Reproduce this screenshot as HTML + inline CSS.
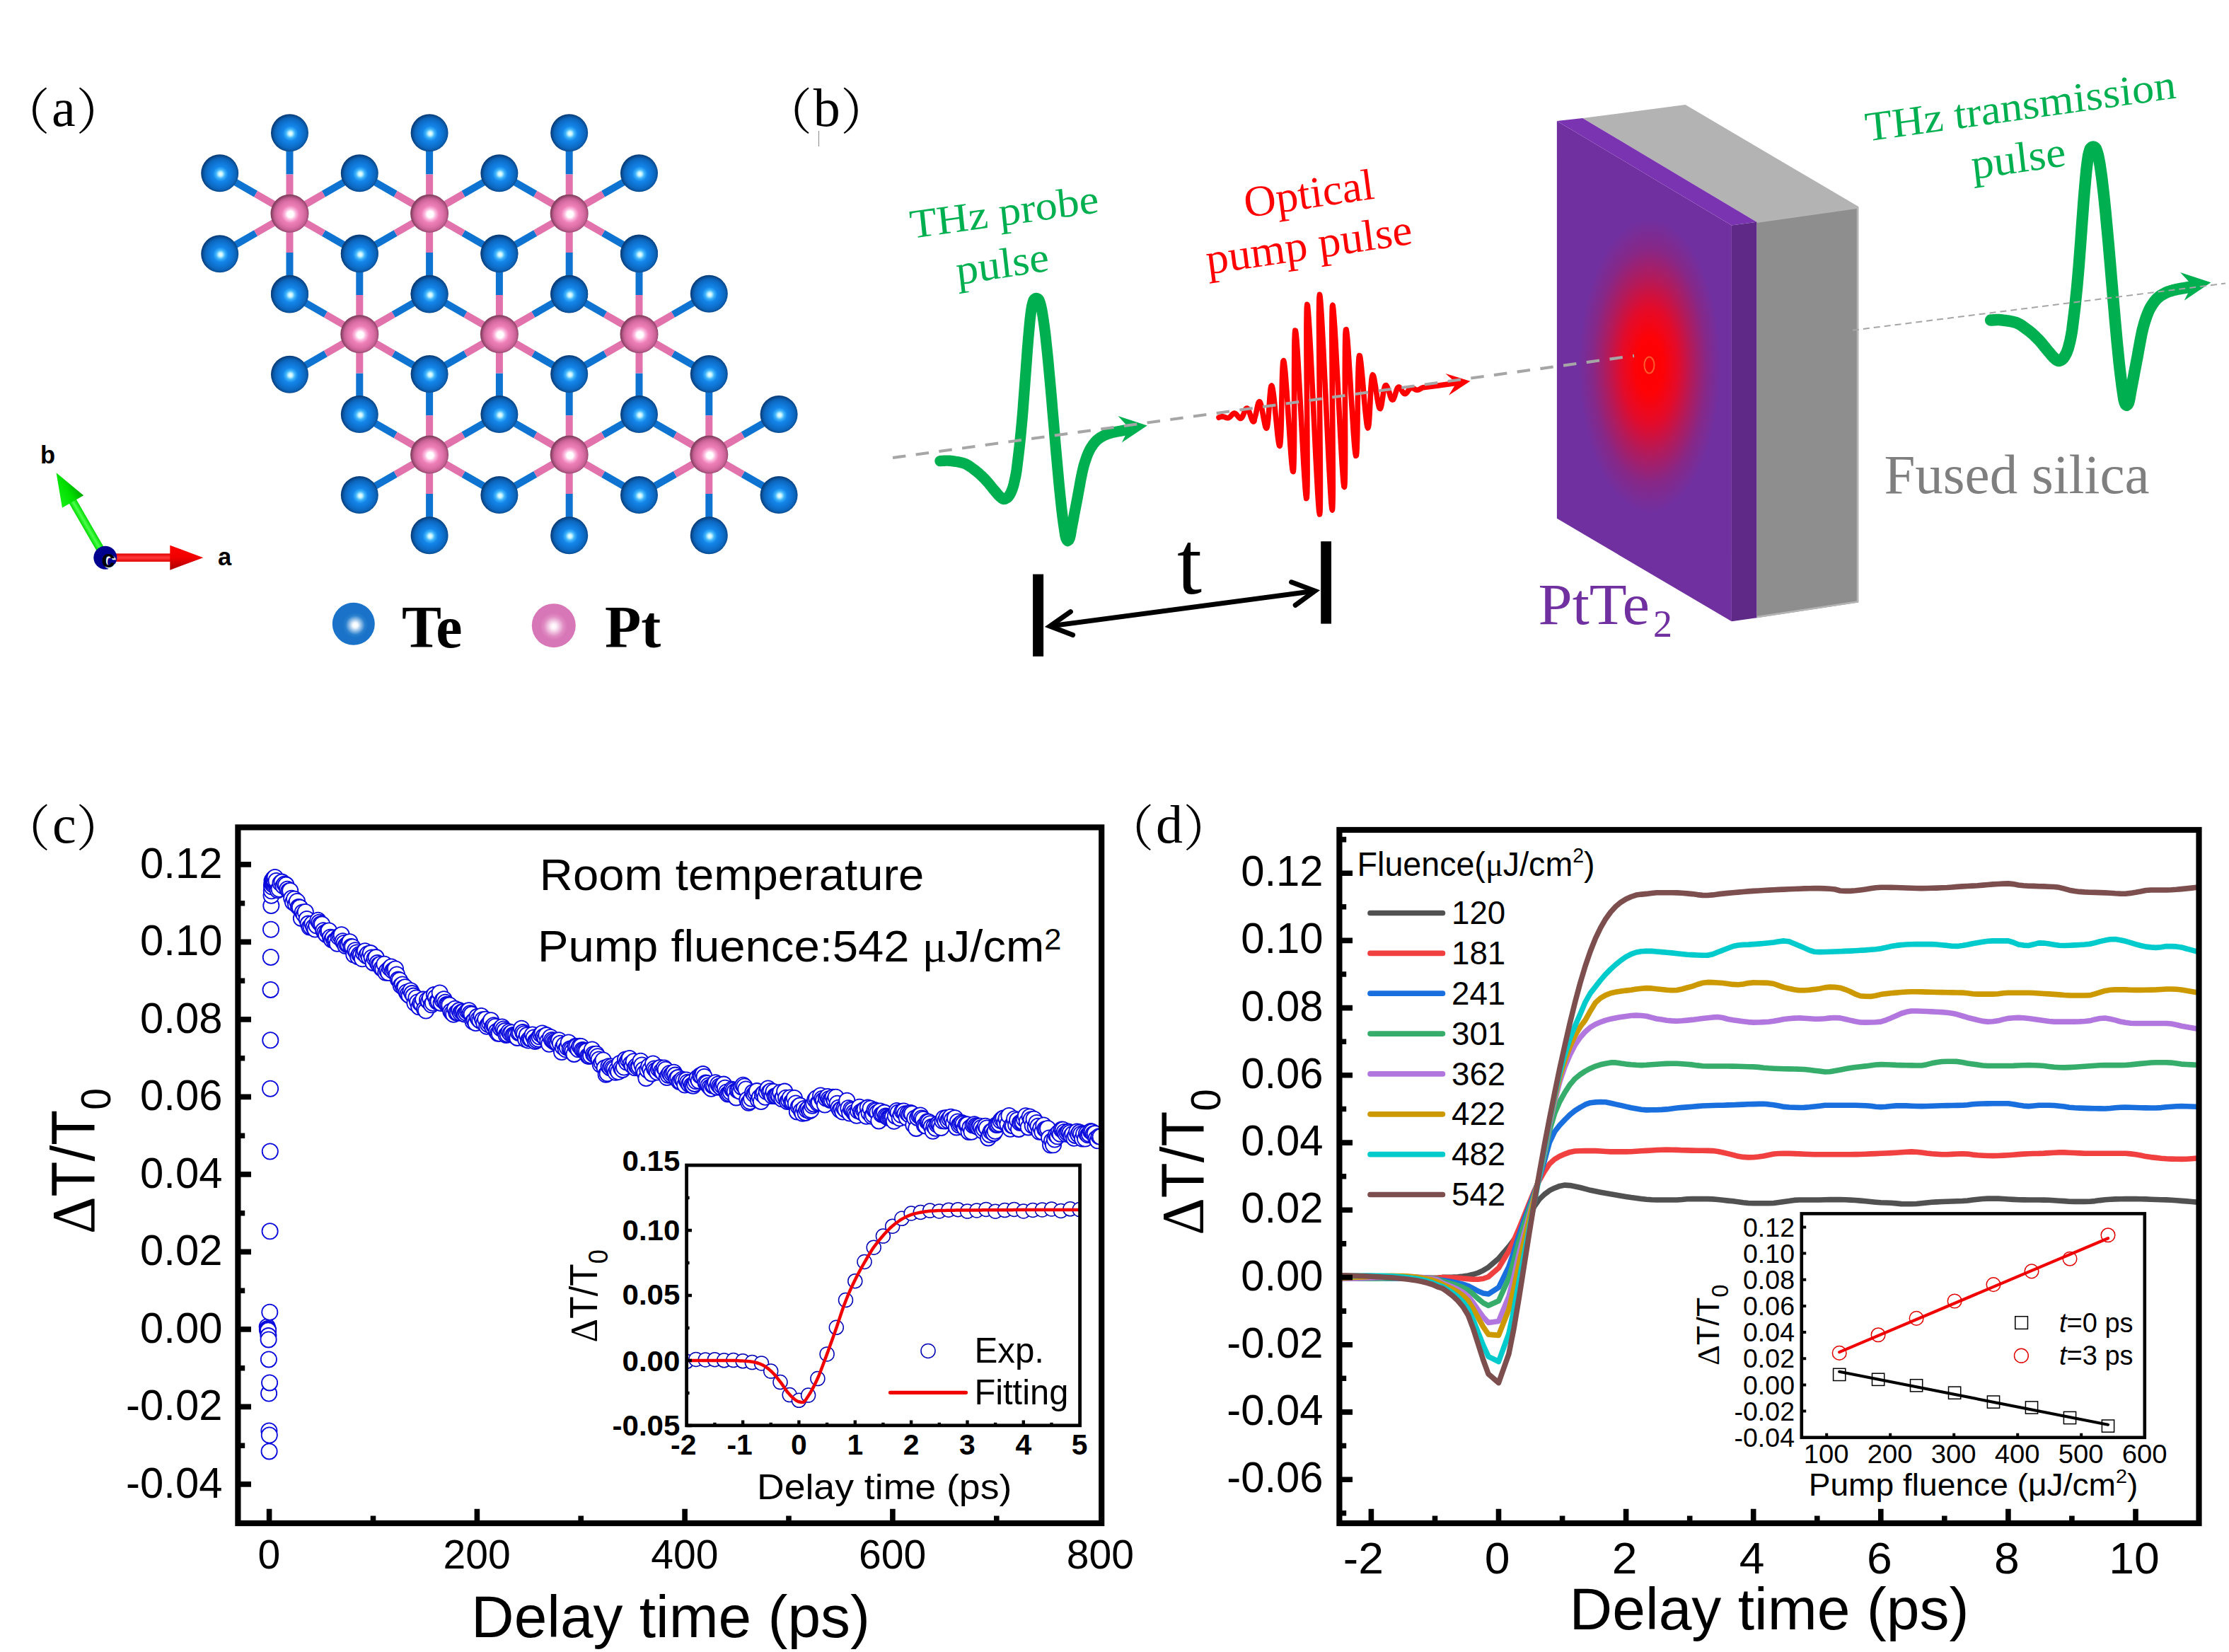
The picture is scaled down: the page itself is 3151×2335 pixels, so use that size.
<!DOCTYPE html>
<html lang="en"><head><meta charset="utf-8"><title>PtTe2 optical-pump THz-probe figure</title>
<style>
html,body{margin:0;padding:0;background:#fff;}
body{width:3151px;height:2335px;overflow:hidden;}
svg{display:block;}
.sans{font-family:"Liberation Sans", sans-serif;}
.serif{font-family:"Liberation Serif", serif;}
.cjk{font-family:"Liberation Serif", "Noto Serif CJK SC", serif;}
</style></head><body>
<svg xmlns="http://www.w3.org/2000/svg" width="3151" height="2335" viewBox="0 0 3151 2335">
<defs>
<radialGradient id="gTe" cx="0.52" cy="0.52" r="0.5" fx="0.52" fy="0.52"><stop offset="0" stop-color="#f4ffff"/><stop offset="0.1" stop-color="#c8f6ff"/><stop offset="0.24" stop-color="#3fb4fb"/><stop offset="0.4" stop-color="#1486ea"/><stop offset="0.62" stop-color="#0f76d6"/><stop offset="0.82" stop-color="#0c66bd"/><stop offset="0.94" stop-color="#0a4f97"/><stop offset="1" stop-color="#093f7c"/></radialGradient>
<radialGradient id="gPt" cx="0.52" cy="0.52" r="0.5" fx="0.52" fy="0.52"><stop offset="0" stop-color="#ffffff"/><stop offset="0.16" stop-color="#ffffff"/><stop offset="0.3" stop-color="#fbb6dc"/><stop offset="0.46" stop-color="#ee80b8"/><stop offset="0.66" stop-color="#e072aa"/><stop offset="0.84" stop-color="#c76194"/><stop offset="0.95" stop-color="#9c4a74"/><stop offset="1" stop-color="#84405f"/></radialGradient>
<radialGradient id="gTeL" cx="0.54" cy="0.53" r="0.5"><stop offset="0" stop-color="#ffffff"/><stop offset="0.12" stop-color="#f2f8fd"/><stop offset="0.45" stop-color="#2a80cf"/><stop offset="0.6" stop-color="#1a73c8"/><stop offset="1" stop-color="#1a73c8"/></radialGradient>
<radialGradient id="gPtL" cx="0.5" cy="0.52" r="0.5"><stop offset="0" stop-color="#ffffff"/><stop offset="0.12" stop-color="#fdf1f8"/><stop offset="0.45" stop-color="#e08cc3"/><stop offset="0.62" stop-color="#d877b7"/><stop offset="1" stop-color="#d877b7"/></radialGradient>
<circle id="te" r="26.5" fill="url(#gTe)"/>
<circle id="pt" r="27" fill="url(#gPt)"/>
<linearGradient id="gRedS" x1="0" y1="0" x2="0" y2="1"><stop offset="0" stop-color="#e00000"/><stop offset="0.5" stop-color="#ff3a3a"/><stop offset="1" stop-color="#e00000"/></linearGradient>
<linearGradient id="gRedH" x1="0" y1="0" x2="0" y2="1"><stop offset="0" stop-color="#ff0000"/><stop offset="0.5" stop-color="#f00000"/><stop offset="1" stop-color="#a80000"/></linearGradient>
<linearGradient id="gGrnS" x1="0" y1="0" x2="0" y2="1"><stop offset="0" stop-color="#00d800"/><stop offset="0.5" stop-color="#4cff4c"/><stop offset="1" stop-color="#00d800"/></linearGradient>
<linearGradient id="gGrnH" x1="0" y1="0" x2="0" y2="1"><stop offset="0" stop-color="#18f018"/><stop offset="0.55" stop-color="#00e000"/><stop offset="1" stop-color="#00a800"/></linearGradient>
<radialGradient id="gSpot" gradientUnits="userSpaceOnUse" cx="0" cy="0" r="1" gradientTransform="translate(2332 517) scale(100 208)"><stop offset="0" stop-color="#ff0000"/><stop offset="0.2" stop-color="#fd0207"/><stop offset="0.4" stop-color="#e30b2b"/><stop offset="0.6" stop-color="#b21b5c"/><stop offset="0.8" stop-color="#872888"/><stop offset="1" stop-color="#7030a0"/></radialGradient>
<clipPath id="cFront"><path d="M2200.9 170.9L2447.9 318.6L2447.9 878.2L2200.9 732.8Z"/></clipPath>
<clipPath id="cC"><rect x="336.4" y="1169.4" width="1220.8" height="983.6"/></clipPath>
<marker id="mC" markerUnits="userSpaceOnUse" markerWidth="30" markerHeight="30" refX="15" refY="15" overflow="visible"><circle cx="15" cy="15" r="11.1" fill="#fff" stroke="#0a0adc" stroke-width="1.8"/></marker>
<marker id="mCi" markerUnits="userSpaceOnUse" markerWidth="30" markerHeight="30" refX="15" refY="15" overflow="visible"><circle cx="15" cy="15" r="10" fill="#fff" stroke="#0000b4" stroke-width="1.5"/></marker>
<clipPath id="cCi"><rect x="970.6" y="1647" width="556" height="367.8"/></clipPath>
<clipPath id="cD"><rect x="1893.4" y="1173" width="1215.1" height="980"/></clipPath>
</defs>
<rect width="3151" height="2335" fill="#fff"/>
<g id="panel-a">
<path d="M409.5 246.5L409.5 187.7M457.4 274.1L508.3 244.8M457.4 329.5L508.3 358.8M409.5 357.1L409.5 415.9M361.6 329.5L310.7 358.8M361.6 274.1L310.7 244.8M607.1 246.5L607.1 187.7M655 274.1L705.9 244.8M655 329.5L705.9 358.8M607.1 357.1L607.1 415.9M559.2 329.5L508.3 358.8M559.2 274.1L508.3 244.8M804.7 246.5L804.7 187.7M852.6 274.1L903.5 244.8M852.6 329.5L903.5 358.8M804.7 357.1L804.7 415.9M756.8 329.5L705.9 358.8M756.8 274.1L705.9 244.8M508.3 416.9L508.3 358.1M556.2 444.5L607.1 415.2M556.2 499.9L607.1 529.2M508.3 527.5L508.3 586.3M460.4 499.9L409.5 529.2M460.4 444.5L409.5 415.2M705.9 416.9L705.9 358.1M753.8 444.5L804.7 415.2M753.8 499.9L804.7 529.2M705.9 527.5L705.9 586.3M658 499.9L607.1 529.2M658 444.5L607.1 415.2M903.5 416.9L903.5 358.1M951.4 444.5L1002.3 415.2M951.4 499.9L1002.3 529.2M903.5 527.5L903.5 586.3M855.6 499.9L804.7 529.2M855.6 444.5L804.7 415.2M607.1 587.3L607.1 528.5M655 614.9L705.9 585.6M655 670.3L705.9 699.6M607.1 697.9L607.1 756.7M559.2 670.3L508.3 699.6M559.2 614.9L508.3 585.6M804.7 587.3L804.7 528.5M852.6 614.9L903.5 585.6M852.6 670.3L903.5 699.6M804.7 697.9L804.7 756.7M756.8 670.3L705.9 699.6M756.8 614.9L705.9 585.6M1002.3 587.3L1002.3 528.5M1050.2 614.9L1101.1 585.6M1050.2 670.3L1101.1 699.6M1002.3 697.9L1002.3 756.7M954.4 670.3L903.5 699.6M954.4 614.9L903.5 585.6" stroke="#0f74d1" stroke-width="10" fill="none"/>
<path d="M409.5 301.8L409.5 246.5M409.5 301.8L457.4 274.1M409.5 301.8L457.4 329.5M409.5 301.8L409.5 357.1M409.5 301.8L361.6 329.5M409.5 301.8L361.6 274.1M607.1 301.8L607.1 246.5M607.1 301.8L655 274.1M607.1 301.8L655 329.5M607.1 301.8L607.1 357.1M607.1 301.8L559.2 329.5M607.1 301.8L559.2 274.1M804.7 301.8L804.7 246.5M804.7 301.8L852.6 274.1M804.7 301.8L852.6 329.5M804.7 301.8L804.7 357.1M804.7 301.8L756.8 329.5M804.7 301.8L756.8 274.1M508.3 472.2L508.3 416.9M508.3 472.2L556.2 444.5M508.3 472.2L556.2 499.9M508.3 472.2L508.3 527.5M508.3 472.2L460.4 499.9M508.3 472.2L460.4 444.5M705.9 472.2L705.9 416.9M705.9 472.2L753.8 444.5M705.9 472.2L753.8 499.9M705.9 472.2L705.9 527.5M705.9 472.2L658 499.9M705.9 472.2L658 444.5M903.5 472.2L903.5 416.9M903.5 472.2L951.4 444.5M903.5 472.2L951.4 499.9M903.5 472.2L903.5 527.5M903.5 472.2L855.6 499.9M903.5 472.2L855.6 444.5M607.1 642.6L607.1 587.3M607.1 642.6L655 614.9M607.1 642.6L655 670.3M607.1 642.6L607.1 697.9M607.1 642.6L559.2 670.3M607.1 642.6L559.2 614.9M804.7 642.6L804.7 587.3M804.7 642.6L852.6 614.9M804.7 642.6L852.6 670.3M804.7 642.6L804.7 697.9M804.7 642.6L756.8 670.3M804.7 642.6L756.8 614.9M1002.3 642.6L1002.3 587.3M1002.3 642.6L1050.2 614.9M1002.3 642.6L1050.2 670.3M1002.3 642.6L1002.3 697.9M1002.3 642.6L954.4 670.3M1002.3 642.6L954.4 614.9" stroke="#e272ab" stroke-width="10" fill="none"/>
<use href="#te" x="409.5" y="187.7"/>
<use href="#te" x="607.1" y="187.7"/>
<use href="#te" x="804.7" y="187.7"/>
<use href="#te" x="310.7" y="244.8"/>
<use href="#te" x="508.3" y="244.8"/>
<use href="#te" x="705.9" y="244.8"/>
<use href="#te" x="903.5" y="244.8"/>
<use href="#te" x="508.3" y="358.1"/>
<use href="#te" x="705.9" y="358.1"/>
<use href="#te" x="903.5" y="358.1"/>
<use href="#te" x="310.7" y="358.8"/>
<use href="#te" x="508.3" y="358.8"/>
<use href="#te" x="705.9" y="358.8"/>
<use href="#te" x="903.5" y="358.8"/>
<use href="#te" x="409.5" y="415.2"/>
<use href="#te" x="607.1" y="415.2"/>
<use href="#te" x="804.7" y="415.2"/>
<use href="#te" x="1002.3" y="415.2"/>
<use href="#te" x="409.5" y="415.9"/>
<use href="#te" x="607.1" y="415.9"/>
<use href="#te" x="804.7" y="415.9"/>
<use href="#te" x="607.1" y="528.5"/>
<use href="#te" x="804.7" y="528.5"/>
<use href="#te" x="1002.3" y="528.5"/>
<use href="#te" x="409.5" y="529.2"/>
<use href="#te" x="508.3" y="585.6"/>
<use href="#te" x="705.9" y="585.6"/>
<use href="#te" x="903.5" y="585.6"/>
<use href="#te" x="1101.1" y="585.6"/>
<use href="#te" x="508.3" y="699.6"/>
<use href="#te" x="705.9" y="699.6"/>
<use href="#te" x="903.5" y="699.6"/>
<use href="#te" x="1101.1" y="699.6"/>
<use href="#te" x="607.1" y="756.7"/>
<use href="#te" x="804.7" y="756.7"/>
<use href="#te" x="1002.3" y="756.7"/>
<use href="#pt" x="409.5" y="301.8"/>
<use href="#pt" x="607.1" y="301.8"/>
<use href="#pt" x="804.7" y="301.8"/>
<use href="#pt" x="508.3" y="472.2"/>
<use href="#pt" x="705.9" y="472.2"/>
<use href="#pt" x="903.5" y="472.2"/>
<use href="#pt" x="607.1" y="642.6"/>
<use href="#pt" x="804.7" y="642.6"/>
<use href="#pt" x="1002.3" y="642.6"/>
<g transform="translate(148.8 788.2) rotate(-120)">
<rect x="0" y="-5.8" width="92.5" height="11.5" fill="url(#gGrnS)"/>
<path d="M91.5 -17.5L138.5 0L91.5 17.5Z" fill="url(#gGrnH)"/>
</g>
<g transform="translate(148.8 788.2) rotate(0)">
<rect x="0" y="-5.8" width="92.5" height="11.5" fill="url(#gRedS)"/>
<path d="M91.5 -17.5L138.5 0L91.5 17.5Z" fill="url(#gRedH)"/>
</g>
<circle cx="148.8" cy="788.2" r="16.5" fill="#00008e"/>
<text class="sans" x="155.2" y="803.5" font-size="35" font-weight="700" text-anchor="middle" fill="#fff">c</text>
<text class="sans" x="153.3" y="801.6" font-size="35" font-weight="700" text-anchor="middle" fill="#000">c</text>
<text class="sans" x="67.5" y="655" font-size="34.5" font-weight="700" text-anchor="middle" fill="#000">b</text>
<text class="sans" x="317.5" y="799" font-size="34.5" font-weight="700" text-anchor="middle" fill="#000">a</text>
<circle cx="499.8" cy="881.8" r="30" fill="url(#gTeL)"/>
<circle cx="782.8" cy="884.2" r="31" fill="url(#gPtL)"/>
<text class="serif" x="568" y="914.5" font-size="84" font-weight="700" fill="#000">Te</text>
<text class="serif" x="855" y="915" font-size="84" font-weight="700" fill="#000">Pt</text>
<text class="cjk" fill="#000" font-size="76"><tspan font-family="'Noto Serif CJK SC', serif" font-size="70" x="0.6" y="183">（</tspan><tspan x="72.9" y="178.4">a</tspan><tspan font-family="'Noto Serif CJK SC', serif" font-size="70" x="107.5" y="183">）</tspan></text>
</g>
<g id="panel-b">
<path d="M2237.2 167L2382.5 148.1L2627.2 292L2483.3 313.8Z" fill="#b3b3b3"/>
<path d="M2483.3 313.8L2627.2 292L2627.2 851.5L2483.3 873.3Z" fill="#8e8e8e"/>
<path d="M2483.3 313.8L2626 293.4L2626 850.5L2483.3 872.1" fill="none" stroke="#b4b4b4" stroke-width="2.6" stroke-linejoin="round"/>
<path d="M2200.9 170.9L2447.9 318.6L2447.9 878.2L2200.9 732.8Z" fill="#7030a0"/>
<ellipse cx="2332" cy="517" rx="100" ry="208" fill="url(#gSpot)" clip-path="url(#cFront)"/>
<path d="M2200.9 170.9L2237.2 167L2483.3 313.8L2447.9 318.6Z" fill="#7b34b1"/>
<path d="M2447.9 318.6L2483.3 313.8L2483.3 873.3L2447.9 878.2Z" fill="#5f2988"/>
<ellipse cx="2331.5" cy="516" rx="7" ry="11.5" fill="none" stroke="#ff5a2e" stroke-width="2"/>
<path d="M1329 651.6L1330.3 651.5L1331.5 651.4L1332.8 651.4L1334.1 651.3L1335.4 651.2L1336.6 651.1L1337.9 651.1L1339.2 651.1L1340.4 651.1L1341.7 651.2L1343 651.3L1344.3 651.4L1345.5 651.6L1346.8 651.8L1348.1 651.9L1349.3 652.1L1350.6 652.3L1351.9 652.5L1353.2 652.7L1354.4 652.9L1355.7 653.1L1357 653.4L1358.2 653.7L1359.5 654L1360.8 654.3L1362.1 654.7L1363.3 655.1L1364.6 655.6L1365.9 656.2L1367.1 656.9L1368.4 657.6L1369.7 658.4L1371 659.3L1372.2 660.1L1373.5 661L1374.8 662L1376 662.9L1377.3 663.9L1378.6 664.8L1379.9 665.8L1381.1 666.8L1382.4 667.9L1383.7 669L1384.9 670.1L1386.2 671.3L1387.5 672.5L1388.8 673.7L1390 675L1391.3 676.2L1392.6 677.5L1393.8 678.9L1395.1 680.3L1396.4 681.8L1397.7 683.3L1398.9 684.8L1400.2 686.4L1401.5 688L1402.7 689.5L1404 691.1L1405.3 692.6L1406.6 694.1L1407.8 695.6L1409.1 697.1L1410.4 698.6L1411.6 700.1L1412.9 701.4L1414.2 702.5L1415.5 703.5L1416.7 704.5L1418 705.2L1419.3 705.5L1420.5 705.3L1421.8 704.8L1423.1 704L1424.4 703.2L1425.6 701.8L1426.9 700L1428.2 697.8L1429.4 695.3L1430.7 692.3L1432 688.4L1433.3 683.8L1434.5 678.5L1435.8 672.5L1437.1 664.7L1438.3 655L1439.6 644.5L1440.9 633.4L1442.2 621.4L1443.4 608.9L1444.7 595.3L1446 580.1L1447.2 563.8L1448.5 546.7L1449.8 529.3L1451.1 511.9L1452.3 495.1L1453.6 479.1L1454.9 464.5L1456.1 451.6L1457.4 440.9L1458.7 432.7L1460 427.5L1461.2 424.1L1462.5 422.6L1463.8 421.8L1465 421.5L1466.3 421.8L1467.6 422.6L1468.9 424.1L1470.1 427.5L1471.4 432L1472.7 437.9L1473.9 445L1475.2 453.3L1476.5 462.7L1477.8 473L1479 484.3L1480.3 496.3L1481.6 509.1L1482.8 522.4L1484.1 536.2L1485.4 550.5L1486.7 565.1L1487.9 579.8L1489.2 594.7L1490.5 609.7L1491.7 624.5L1493 639.2L1494.3 653.6L1495.6 667.7L1496.8 681.2L1498.1 694.3L1499.4 706.7L1500.6 718.3L1501.9 729.1L1503.2 738.9L1504.5 747.7L1505.7 756L1507 761L1508.3 763.5L1509.5 764.5L1510.8 763.5L1512.1 761L1513.4 755.9L1514.6 748.2L1515.9 741.5L1517.2 734.7L1518.4 728L1519.7 721.3L1521 714.6L1522.3 708.1L1523.5 701.3L1524.8 694.4L1526.1 687.3L1527.3 680.4L1528.6 673.7L1529.9 667.5L1531.2 661.9L1532.4 657.2L1533.7 653L1535 649.2L1536.2 645.6L1537.5 642.3L1538.8 639.3L1540.1 636.6L1541.3 634.3L1542.6 632.2L1543.9 630.3L1545.1 628.4L1546.4 626.7L1547.7 625.2L1549 623.8L1550.2 622.5L1551.5 621.3L1552.8 620.3L1554 619.4L1555.3 618.6L1556.6 617.8L1557.9 617.1L1559.1 616.4L1560.4 615.7L1561.7 615.1L1562.9 614.5L1564.2 614L1565.5 613.5L1566.8 613.1L1568 612.7L1569.3 612.3L1570.6 612L1571.8 611.6L1573.1 611.3L1574.4 611L1575.7 610.8L1576.9 610.5L1578.2 610.2L1579.5 610L1580.7 609.8L1582 609.5L1583.3 609.3L1584.6 609.1L1585.8 608.8L1587.1 608.6L1588.4 608.4L1589.6 608.1L1590.9 607.9L1592.2 607.7L1593.5 607.5L1594.7 607.3L1596 607.1L1597.3 606.8" fill="none" stroke="#00b050" stroke-width="15.4" stroke-linecap="round" stroke-linejoin="round"/>
<path d="M1621.8 601.4L1580.5 588L1596.1 605L1585.8 625.6Z" fill="#00b050"/>
<path d="M2814.1 452.6L2815.5 452.5L2816.8 452.4L2818.2 452.3L2819.5 452.3L2820.9 452.2L2822.2 452.1L2823.6 452.1L2824.9 452.1L2826.3 452.1L2827.6 452.2L2829 452.3L2830.3 452.4L2831.7 452.6L2833.1 452.8L2834.4 453L2835.8 453.1L2837.1 453.3L2838.5 453.5L2839.8 453.7L2841.2 454L2842.5 454.2L2843.9 454.5L2845.2 454.8L2846.6 455.1L2848 455.5L2849.3 455.8L2850.7 456.3L2852 456.9L2853.4 457.5L2854.7 458.2L2856.1 459L2857.4 459.8L2858.8 460.7L2860.1 461.7L2861.5 462.7L2862.8 463.7L2864.2 464.7L2865.6 465.7L2866.9 466.7L2868.3 467.7L2869.6 468.8L2871 469.9L2872.3 471.1L2873.7 472.3L2875 473.5L2876.4 474.8L2877.7 476.1L2879.1 477.5L2880.4 478.8L2881.8 480.2L2883.2 481.7L2884.5 483.2L2885.9 484.7L2887.2 486.3L2888.6 488L2889.9 489.7L2891.3 491.3L2892.6 493L2894 494.6L2895.3 496.3L2896.7 497.8L2898.1 499.4L2899.4 501.1L2900.8 502.7L2902.1 504.2L2903.5 505.6L2904.8 506.8L2906.2 507.9L2907.5 508.9L2908.9 509.7L2910.2 510L2911.6 509.8L2912.9 509.2L2914.3 508.5L2915.7 507.5L2917 506.1L2918.4 504.1L2919.7 501.8L2921.1 499.2L2922.4 496L2923.8 491.8L2925.1 486.9L2926.5 481.2L2927.8 474.8L2929.2 466.6L2930.5 456.2L2931.9 445L2933.3 433.2L2934.6 420.5L2936 407.1L2937.3 392.6L2938.7 376.5L2940 359.1L2941.4 340.9L2942.7 322.3L2944.1 303.8L2945.4 285.9L2946.8 268.9L2948.2 253.3L2949.5 239.6L2950.9 228.2L2952.2 219.5L2953.6 213.9L2954.9 210.3L2956.3 208.7L2957.6 207.8L2959 207.5L2960.3 207.8L2961.7 208.7L2963 210.3L2964.4 214L2965.8 218.8L2967.1 225L2968.5 232.6L2969.8 241.4L2971.2 251.4L2972.5 262.4L2973.9 274.4L2975.2 287.2L2976.6 300.8L2977.9 315L2979.3 329.7L2980.7 344.9L2982 360.4L2983.4 376.2L2984.7 392.1L2986.1 407.9L2987.4 423.8L2988.8 439.4L2990.1 454.7L2991.5 469.7L2992.8 484.2L2994.2 498L2995.5 511.2L2996.9 523.6L2998.3 535.1L2999.6 545.6L3001 555L3002.3 563.8L3003.7 569.1L3005 571.8L3006.4 572.8L3007.7 571.8L3009.1 569.1L3010.4 563.7L3011.8 555.5L3013.1 548.3L3014.5 541.1L3015.9 533.9L3017.2 526.8L3018.6 519.7L3019.9 512.7L3021.3 505.6L3022.6 498.1L3024 490.6L3025.3 483.3L3026.7 476.2L3028 469.5L3029.4 463.6L3030.8 458.6L3032.1 454.1L3033.5 450L3034.8 446.2L3036.2 442.7L3037.5 439.5L3038.9 436.6L3040.2 434.2L3041.6 432L3042.9 429.9L3044.3 427.9L3045.6 426.1L3047 424.5L3048.4 422.9L3049.7 421.6L3051.1 420.4L3052.4 419.3L3053.8 418.3L3055.1 417.4L3056.5 416.6L3057.8 415.8L3059.2 415.1L3060.5 414.4L3061.9 413.7L3063.2 413.1L3064.6 412.6L3066 412.1L3067.3 411.6L3068.7 411.2L3070 410.8L3071.4 410.4L3072.7 410L3074.1 409.7L3075.4 409.4L3076.8 409.1L3078.1 408.8L3079.5 408.5L3080.9 408.3L3082.2 408L3083.6 407.8L3084.9 407.5L3086.3 407.3L3087.6 407.1L3089 406.8L3090.3 406.6L3091.7 406.3L3093 406.1L3094.4 405.8L3095.7 405.6L3097.1 405.4L3098.5 405.2L3099.8 404.9" fill="none" stroke="#00b050" stroke-width="16.5" stroke-linecap="round" stroke-linejoin="round"/>
<path d="M3125.5 399.2L3082.1 385.1L3098.8 403L3087.7 424.7Z" fill="#00b050"/>
<path d="M1723 590.2L1723.6 589.9L1724.2 589.7L1724.8 589.4L1725.4 589.2L1726 589L1726.6 588.9L1727.2 588.8L1727.8 588.8L1728.4 588.8L1729 588.9L1729.6 589L1730.2 589.2L1730.8 589.4L1731.4 589.6L1732 589.9L1732.6 590.1L1733.2 590.3L1733.8 590.5L1734.5 590.7L1735.1 590.7L1735.7 590.7L1736.3 590.7L1736.9 590.5L1737.4 590.2L1738 589.8L1738.6 589.3L1739.2 588.8L1739.8 588.2L1740.4 587.6L1741 586.9L1741.6 586.3L1742.1 585.7L1742.7 585.2L1743.3 584.7L1743.9 584.4L1744.5 584.2L1745.1 584.1L1745.7 584.2L1746.3 584.5L1746.9 584.9L1747.6 585.5L1748.2 586.1L1748.8 586.9L1749.4 587.7L1750.1 588.5L1750.7 589.3L1751.3 590L1751.9 590.6L1752.5 591.1L1753.1 591.4L1753.8 591.5L1754.3 591.3L1754.9 590.9L1755.5 590.3L1756.1 589.4L1756.7 588.4L1757.2 587.1L1757.8 585.7L1758.4 584.3L1758.9 582.8L1759.5 581.3L1760 580L1760.6 578.9L1761.2 577.9L1761.8 577.3L1762.4 577L1763 577.1L1763.6 577.5L1764.2 578.3L1764.8 579.5L1765.5 580.9L1766.1 582.6L1766.8 584.5L1767.5 586.6L1768.1 588.6L1768.8 590.6L1769.4 592.4L1770.1 593.9L1770.7 595L1771.3 595.8L1772 596L1772.5 595.7L1773.1 594.8L1773.6 591.2L1774.2 589.7L1774.7 587.8L1775.3 585.6L1775.8 583.2L1776.3 580.6L1776.8 578L1777.4 575.4L1777.9 573L1778.5 570.9L1779 569.3L1779.6 568.2L1780.2 567.7L1780.8 567.9L1781.4 568.7L1782 570.3L1782.7 572.6L1783.4 575.5L1784.1 578.9L1784.8 582.7L1785.5 586.7L1786.2 590.7L1787 594.6L1787.7 598.1L1788.4 601.2L1789 603.5L1789.7 604.9L1790.3 605.4L1790.9 604.8L1791.4 603.1L1791.9 600.3L1792.4 596.5L1792.9 591.8L1793.3 586.3L1793.8 580.3L1794.2 574L1794.6 567.7L1795 561.6L1795.5 556.1L1795.9 551.5L1796.4 548L1797 545.8L1797.6 545L1798.2 545.9L1798.9 548.5L1799.6 552.6L1800.4 558.2L1801.2 565.2L1802 573.1L1802.8 581.8L1803.7 590.9L1804.6 599.9L1805.4 608.4L1806.2 616L1807 622.3L1807.8 627L1808.5 629.8L1809.1 630.4L1809.6 628.7L1810.1 624.6L1810.5 618.4L1810.9 610.1L1811.2 600.1L1811.5 588.6L1811.7 576.3L1811.9 563.6L1812.2 551L1812.4 539.3L1812.7 528.8L1813.1 520.2L1813.5 513.9L1814 510.4L1814.6 509.8L1815.3 512.3L1816 517.9L1816.9 526.4L1817.8 537.7L1818.8 551.2L1819.9 566.4L1820.9 582.7L1822 599.3L1823.1 615.6L1824.1 630.8L1825.1 644L1826 654.8L1826.9 662.4L1827.6 666.4L1828.2 666.6L1828.7 662.8L1829 655L1829.3 643.5L1829.5 628.6L1829.6 611L1829.6 591.4L1829.6 570.6L1829.6 549.5L1829.6 529.1L1829.7 510.2L1829.8 493.9L1830 480.8L1830.4 471.7L1830.8 467.1L1831.4 467.3L1832.2 472.4L1833.1 482.3L1834.1 496.7L1835.2 515L1836.4 536.4L1837.7 560.1L1839.1 585.1L1840.4 610.2L1841.7 634.3L1842.9 656.3L1844.1 675.2L1845.1 690L1846 699.9L1846.7 704.6L1847.3 703.5L1847.7 696.7L1848 684.4L1848.1 667.1L1848 645.3L1847.9 620.1L1847.7 592.5L1847.5 563.6L1847.2 534.9L1847 507.5L1846.9 482.8L1846.9 461.8L1847.1 445.6L1847.3 434.9L1847.8 430.3L1848.5 432L1849.3 440.1L1850.3 454.3L1851.5 473.9L1852.8 498.2L1854.2 526.1L1855.7 556.4L1857.2 587.7L1858.7 618.7L1860.1 647.9L1861.5 674L1862.7 695.9L1863.8 712.5L1864.7 723.1L1865.5 727L1866 724.2L1866.3 714.7L1866.4 698.9L1866.4 677.5L1866.3 651.4L1866 621.7L1865.7 589.8L1865.3 557L1865 525L1864.8 494.9L1864.6 468.3L1864.5 446.3L1864.7 429.8L1865 419.7L1865.5 416.3L1866.2 419.7L1867.1 429.9L1868.2 446.3L1869.4 468.2L1870.8 494.6L1872.2 524.3L1873.8 556L1875.3 588.1L1876.8 619.4L1878.2 648.4L1879.6 673.9L1880.8 694.6L1881.8 709.8L1882.7 718.7L1883.4 721L1883.8 716.8L1884.1 706.1L1884.3 689.5L1884.2 667.9L1884.1 642.2L1883.9 613.6L1883.6 583.4L1883.3 552.9L1883.1 523.5L1882.9 496.5L1882.8 473.1L1882.9 454.2L1883.1 440.6L1883.4 432.8L1884 431.2L1884.7 435.6L1885.6 445.8L1886.7 461.3L1887.9 481.2L1889.1 504.7L1890.5 530.6L1891.9 557.7L1893.3 584.8L1894.6 610.7L1895.9 634.2L1897.1 654.4L1898.2 670.5L1899.1 681.7L1899.9 687.7L1900.5 688.4L1901 683.7L1901.3 674L1901.5 659.9L1901.6 642.1L1901.6 621.3L1901.5 598.7L1901.4 575.2L1901.4 551.9L1901.3 529.9L1901.4 510L1901.5 493L1901.7 479.8L1902 470.6L1902.5 465.9L1903.1 465.7L1903.8 469.9L1904.7 478.2L1905.6 490L1906.6 504.9L1907.7 521.9L1908.9 540.4L1910 559.4L1911.2 578.1L1912.3 595.6L1913.3 611.3L1914.3 624.4L1915.2 634.5L1916 641.2L1916.7 644.4L1917.3 643.9L1917.8 640L1918.2 633L1918.5 623.1L1918.8 611L1919 597.3L1919.1 582.7L1919.3 567.7L1919.5 553.1L1919.7 539.5L1920 527.4L1920.3 517.4L1920.7 509.8L1921.1 504.8L1921.6 502.5L1922.3 502.9L1923 506L1923.7 511.4L1924.5 518.8L1925.4 527.8L1926.3 537.9L1927.2 548.7L1928.1 559.6L1929 570.1L1929.9 579.8L1930.8 588.3L1931.6 595.2L1932.3 600.4L1933 603.6L1933.7 604.9L1934.2 604.1L1934.8 601.6L1935.3 597.3L1935.7 591.7L1936.1 585L1936.5 577.6L1936.9 569.7L1937.2 561.9L1937.6 554.3L1938 547.4L1938.5 541.4L1938.9 536.5L1939.4 532.9L1940 530.7L1940.5 529.8L1941.1 530.3L1941.8 532L1942.5 534.8L1943.2 538.6L1943.9 543L1944.7 547.9L1945.4 553L1946.2 558.1L1946.9 563L1947.7 567.3L1948.4 571.1L1949.1 574L1949.7 576.2L1950.4 577.4L1951 577.7L1951.6 577.1L1952.1 575.7L1952.7 573.6L1953.2 571L1953.7 567.9L1954.2 564.5L1954.7 561.1L1955.2 557.7L1955.7 554.4L1956.2 551.5L1956.8 549.1L1957.3 547.1L1957.9 545.6L1958.5 544.8L1959 544.5L1959.7 544.7L1960.3 545.5L1960.9 546.7L1961.6 548.2L1962.2 549.9L1962.9 551.8L1963.5 553.1L1964.2 555.7L1964.9 558.1L1965.5 560.2L1966.2 562.1L1966.8 563.6L1967.5 564.6L1968.1 565.1L1968.7 565.2L1969.3 564.9L1969.9 564.1L1970.4 563L1971 561.6L1971.6 559.9L1972.1 558.1L1972.7 556.3L1973.2 554.4L1973.8 552.7L1974.3 551.1L1974.9 549.7L1975.4 548.6L1976 547.8L1976.6 547.3L1977.2 547L1977.8 547.1L1978.4 547.5L1979 548.1L1979.7 548.9L1980.3 549.8L1980.9 550.9L1981.6 551.9L1982.2 553L1982.8 554L1983.5 554.8L1984.1 555.6L1984.7 556.1L1985.3 556.5L1985.9 556.6L1986.5 556.6L1987.1 556.4L1987.7 556L1988.3 555.4L1988.9 554.7L1989.5 554L1990 553.2L1990.6 552.3L1991.2 551.5L1991.8 550.8L1992.4 550.1L1992.9 549.5L1993.5 549L1994.1 548.6L1994.7 548.4L1995.3 548.3L1995.9 548.3L1996.5 548.4L1997.1 548.6L1997.8 548.9L1998.4 549.2L1999 549.5L1999.6 549.9L2000.2 550.2L2000.8 550.6L2001.4 550.8L2002 551L2002.6 551.2L2003.2 551.2L2003.8 551.2L2004.4 551.1L2005 551L2005.6 550.8L2006.2 550.5L2006.8 550.2L2007.4 549.9L2008 549.5L2008.6 549.2L2009.2 548.8L2009.8 548.5L2010.4 548.2L2011 548L2011.6 547.8L2058.4 541.6" fill="none" stroke="#ff0000" stroke-width="7.6" stroke-linecap="round" stroke-linejoin="round"/>
<path d="M2078.4 538.7L2043.5 528.1L2058.6 541.6L2048 558.8Z" fill="#ff0000"/>
<path d="M1262 647L2310 502.8" stroke="#a6a6a6" stroke-width="4.2" stroke-dasharray="18.5 14.5" fill="none"/>
<path d="M2619 466.8L3146 400.5" stroke="#a6a6a6" stroke-width="2" stroke-dasharray="9 6" fill="none"/>
<rect x="1460.1" y="811.6" width="15" height="116.2" fill="#000"/>
<rect x="1867.2" y="765.2" width="14.8" height="116.4" fill="#000"/>
<path d="M1486 884.8L1857 835.5" stroke="#000" stroke-width="7" fill="none"/>
<path d="M1513.4 864.6L1484.2 885.1L1516.6 897.6" stroke="#000" stroke-width="7" fill="none" stroke-linecap="round" stroke-linejoin="miter"/>
<path d="M1825.6 822.8L1858.8 835.2L1831.2 855.4" stroke="#000" stroke-width="7" fill="none" stroke-linecap="round" stroke-linejoin="miter"/>
<text class="serif" x="1664" y="839.3" font-size="126" fill="#000">t</text>
<text class="serif" transform="matrix(0.9992 -0.1389 0.0972 0.9249 1289.2 336.8)" x="-1" font-size="62" fill="#00b050">THz probe</text>
<text class="serif" transform="matrix(0.9992 -0.1562 0.1087 0.9538 1354.1 402.6)" x="-0.3" font-size="62" fill="#00b050">pulse</text>
<text class="serif" transform="matrix(1.005 -0.1483 0.1305 0.9914 1763.2 307.1)" x="-2" font-size="62" fill="#ff0000">Optical</text>
<text class="serif" transform="matrix(1.0115 -0.1507 0.1271 0.9919 1707.9 387.7)" x="-0.3" font-size="62" fill="#ff0000">pump pulse</text>
<text class="serif" transform="matrix(0.9995 -0.1397 0.0911 0.9456 2639.6 199.7)" x="-1" font-size="62" fill="#00b050">THz transmission</text>
<text class="serif" transform="matrix(1.0162 -0.1485 0.1109 0.9737 2789.3 253.2)" x="-0.3" font-size="62" fill="#00b050">pulse</text>
<text class="serif" transform="translate(2174.5 882.1) scale(1.056 1)" font-size="82" fill="#7030a0">PtTe</text>
<text class="serif" x="2337" y="900" font-size="54" fill="#7030a0">2</text>
<text class="serif" x="2663.4" y="696.9" font-size="79" fill="#7f7f7f">Fused silica</text>
<text class="cjk" fill="#000" font-size="76"><tspan font-family="'Noto Serif CJK SC', serif" font-size="70" x="1077.9" y="183">（</tspan><tspan x="1149.8" y="178.4">b</tspan><tspan font-family="'Noto Serif CJK SC', serif" font-size="70" x="1188.2" y="183">）</tspan></text>
<rect x="1157" y="185" width="1" height="22" fill="#8c8c8c"/>
</g>
<g id="panel-c">
<path d="M377.7 1875.2L377.9 1879.9L378.2 1878.8L378.4 1878L378.6 1880.6L378.9 1879L379.1 1880.5L379.4 1888.1L379.6 1893.4L379.9 1921.4L380.1 1969.6L380.4 2022.4L380.6 2051.4L380.8 2028.5L381.1 1954.4L381.3 1854.7L381.6 1740.3L381.8 1627.5L382.1 1538.8L382.3 1470.2L382.6 1398.9L382.8 1353L383 1313.8L383.3 1280L383.5 1265.8L383.8 1259.2L384 1251.2L384.3 1253.2L384.5 1245.1L384.8 1247.8L385 1248.2L385.3 1243.9L385.5 1249.7L385.7 1244.7L386 1250.2L386.2 1247L386.5 1248.1L386.7 1242.1L387 1241.4L387.2 1245.9L387.5 1243.3L387.7 1245.4L387.9 1243.7L388.7 1239.9L390.6 1244.9L392.6 1258.3L394.6 1256.7L396.5 1248.3L398.5 1246.6L400.4 1252.2L402.4 1249.5L404.3 1250.6L406.3 1256.7L408.3 1259.2L410.2 1259L412.2 1269.7L414.1 1275.2L416.1 1270.7L418 1278.1L420 1273.9L422 1282.1L423.9 1282.6L425.9 1298L427.8 1289.5L429.8 1292.7L431.8 1289L433.7 1298.9L435.7 1305.6L437.6 1310.5L439.6 1309.8L441.5 1305.4L443.5 1310.2L445.5 1313.5L447.4 1308.3L449.4 1300.7L451.3 1303.8L453.3 1305.9L455.2 1306.5L457.2 1315.3L459.2 1318.2L461.1 1320.9L463.1 1316L465 1315.4L467 1324.7L469 1328.3L470.9 1325.4L472.9 1329.9L474.8 1329.6L476.8 1333.7L478.7 1324.2L480.7 1322.6L482.7 1321.3L484.6 1330.2L486.6 1332.9L488.5 1337L490.5 1334.9L492.4 1335.1L494.4 1331.3L496.4 1338.1L498.3 1338.4L500.3 1349.5L502.2 1343.3L504.2 1346.4L506.2 1352.3L508.1 1349L510.1 1350.1L512 1355.2L514 1347.3L515.9 1344.2L517.9 1350.9L519.9 1348.2L521.8 1352.8L523.8 1347.1L525.7 1353.4L527.7 1360.9L529.6 1354.8L531.6 1353.1L533.6 1361.1L535.5 1363.8L537.5 1362.9L539.4 1368.8L541.4 1369.7L543.4 1362.8L545.3 1374.7L547.3 1371.9L549.2 1375.1L551.2 1368.4L553.1 1366.5L555.1 1372L557.1 1370.6L559 1369.5L561 1377.4L562.9 1384.6L564.9 1385.5L566.8 1393.1L568.8 1391.4L570.8 1396.1L572.7 1395.2L574.7 1402.5L576.6 1405.2L578.6 1406.9L580.6 1400.2L582.5 1404.1L584.5 1407.6L586.4 1417.8L588.4 1410.4L590.3 1416.4L592.3 1423.2L594.3 1417.9L596.2 1419.3L598.2 1412.6L600.1 1426.2L602.1 1428.5L604 1413.5L606 1415.5L608 1411L609.9 1420.3L611.9 1417.8L613.8 1406.1L615.8 1409.8L617.8 1415.8L619.7 1415.5L621.7 1403.4L623.6 1418.1L625.6 1413.7L627.5 1412.3L629.5 1416.8L631.5 1419.8L633.4 1420.1L635.4 1420.8L637.3 1429.6L639.3 1431.9L641.2 1433.7L643.2 1425.7L645.2 1431.4L647.1 1431.6L649.1 1428.1L651 1431.8L653 1430.2L655 1430L656.9 1433.4L658.9 1431.5L660.8 1428.9L662.8 1428.3L664.7 1432.2L666.7 1433.6L668.7 1444.1L670.6 1442.2L672.6 1446.1L674.5 1437.1L676.5 1440.5L678.4 1442.4L680.4 1435.9L682.4 1441.3L684.3 1446L686.3 1440.7L688.2 1450.7L690.2 1448.1L692.2 1445.7L694.1 1442.3L696.1 1451.3L698 1449.2L700 1450.9L701.9 1458.1L703.9 1460.7L705.9 1460.8L707.8 1453.4L709.8 1451.4L711.7 1454.4L713.7 1457.1L715.6 1462.9L717.6 1462L719.6 1458.3L721.5 1460.8L723.5 1459.4L725.4 1463L727.4 1462.7L729.4 1462.9L731.3 1466.9L733.3 1459.9L735.2 1459.6L737.2 1453.8L739.1 1459.1L741.1 1461.3L743.1 1469.1L745 1463.1L747 1470.6L748.9 1468.2L750.9 1468.6L752.8 1462.4L754.8 1466.4L756.8 1472L758.7 1470.3L760.7 1468.5L762.6 1465.2L764.6 1462.1L766.6 1460.4L768.5 1465.1L770.5 1466.9L772.4 1463.1L774.4 1471.6L776.3 1475.7L778.3 1465.9L780.3 1470L782.2 1471.4L784.2 1473L786.1 1473.5L788.1 1474.1L790.1 1470.2L792 1474.7L794 1487.1L795.9 1480L797.9 1476.5L799.8 1483.2L801.8 1480.6L803.8 1473.5L805.7 1482.6L807.7 1483.8L809.6 1485.8L811.6 1489.9L813.5 1478.7L815.5 1478.9L817.5 1483.2L819.4 1478.7L821.4 1479L823.3 1483.9L825.3 1484.6L827.3 1485.5L829.2 1485.8L831.2 1492.6L833.1 1493L835.1 1492.1L837 1483.5L839 1490L841 1491.3L842.9 1489.8L844.9 1493.3L846.8 1497.4L848.8 1504.8L850.7 1502L852.7 1498.4L854.7 1509.6L856.6 1518.8L858.6 1517.3L860.5 1507.3L862.5 1509.4L864.5 1507.5L866.4 1509.8L868.4 1511L870.3 1515.8L872.3 1511.9L874.2 1515L876.2 1502.9L878.2 1509.7L880.1 1512.1L882.1 1508.5L884 1497.6L886 1501.5L887.9 1497.9L889.9 1496L891.9 1503.6L893.8 1506.2L895.8 1500.2L897.7 1509.2L899.7 1506.7L901.7 1508.5L903.6 1507.3L905.6 1499.8L907.5 1505.5L909.5 1511.9L911.4 1516.5L913.4 1524.1L915.4 1512.4L917.3 1507L919.3 1511.5L921.2 1517.4L923.2 1503.4L925.1 1510.4L927.1 1512.7L929.1 1515.6L931 1510.7L933 1509.1L934.9 1514.2L936.9 1515.5L938.9 1509.5L940.8 1511.7L942.8 1523.1L944.7 1519.7L946.7 1516.9L948.6 1519.4L950.6 1517.5L952.6 1515.8L954.5 1519.6L956.5 1524.6L958.4 1523.1L960.4 1529.1L962.3 1529L964.3 1525.7L966.3 1527.3L968.2 1533.5L970.2 1526.5L972.1 1529.7L974.1 1532.6L976.1 1530.1L978 1534.1L980 1534.8L981.9 1531.9L983.9 1528.3L985.8 1523.4L987.8 1527.6L989.8 1520.3L991.7 1520.2L993.7 1518.1L995.6 1521.9L997.6 1530.5L999.5 1531.1L1001.5 1534.5L1003.5 1536.7L1005.4 1538.8L1007.4 1534.5L1009.3 1534.6L1011.3 1530.3L1013.3 1536.7L1015.2 1532.4L1017.2 1535.3L1019.1 1536.7L1021.1 1534.7L1023 1532.6L1025 1537.8L1027 1543.8L1028.9 1546.5L1030.9 1545.5L1032.8 1543.6L1034.8 1539.7L1036.7 1541L1038.7 1542.9L1040.7 1551.4L1042.6 1541L1044.6 1540.9L1046.5 1542.8L1048.5 1536.4L1050.5 1533.8L1052.4 1535.5L1054.4 1539.5L1056.3 1554.2L1058.3 1558.7L1060.2 1557.1L1062.2 1552.8L1064.2 1544.1L1066.1 1546.7L1068.1 1544.7L1070 1542.1L1072 1554.9L1073.9 1550.9L1075.9 1557L1077.9 1546.9L1079.8 1545L1081.8 1550.7L1083.7 1543L1085.7 1538.4L1087.7 1543.4L1089.6 1542.3L1091.6 1549L1093.5 1543L1095.5 1549.2L1097.4 1549.1L1099.4 1547.7L1101.4 1548.7L1103.3 1543.9L1105.3 1553.3L1107.2 1550.5L1109.2 1542.6L1111.1 1551.7L1113.1 1557L1115.1 1555.4L1117 1551.4L1119 1557.6L1120.9 1557.1L1122.9 1552L1124.9 1559.5L1126.8 1571.4L1128.8 1564.2L1130.7 1562.6L1132.7 1570.2L1134.6 1573.8L1136.6 1566.9L1138.6 1572.9L1140.5 1568.8L1142.5 1566.9L1144.4 1570.2L1146.4 1569L1148.3 1562.7L1150.3 1560.4L1152.3 1554.6L1154.2 1552.3L1156.2 1559.6L1158.1 1558.5L1160.1 1548.4L1162.1 1552.9L1164 1555.1L1166 1561.6L1167.9 1552.5L1169.9 1550L1171.8 1553.3L1173.8 1555L1175.8 1554.7L1177.7 1550.7L1179.7 1555.3L1181.6 1550.8L1183.6 1559.7L1185.5 1565.8L1187.5 1569.1L1189.5 1567.6L1191.4 1571.6L1193.4 1566.6L1195.3 1568.6L1197.3 1555.8L1199.3 1566.2L1201.2 1573.6L1203.2 1567.8L1205.1 1569.2L1207.1 1572.5L1209 1574.4L1211 1576.7L1213 1570L1214.9 1564.7L1216.9 1571.5L1218.8 1572.5L1220.8 1569.1L1222.7 1567.9L1224.7 1577.8L1226.7 1565.6L1228.6 1572.9L1230.6 1566.8L1232.5 1577.7L1234.5 1575.8L1236.5 1568.9L1238.4 1570.3L1240.4 1572.6L1242.3 1584.4L1244.3 1570.5L1246.2 1575.2L1248.2 1574.9L1250.2 1572.6L1252.1 1577.5L1254.1 1578.6L1256 1580.1L1258 1579.4L1259.9 1578.7L1261.9 1578.8L1263.9 1584.7L1265.8 1577.4L1267.8 1570L1269.7 1572.5L1271.7 1580.5L1273.7 1575.8L1275.6 1570.8L1277.6 1570.4L1279.5 1574.2L1281.5 1579.6L1283.4 1573.9L1285.4 1575.5L1287.4 1573.1L1289.3 1574.2L1291.3 1589.9L1293.2 1580.5L1295.2 1594.9L1297.1 1579.9L1299.1 1576.9L1301.1 1576.5L1303 1580.5L1305 1581.9L1306.9 1590.8L1308.9 1591.5L1310.9 1585.2L1312.8 1585.8L1314.8 1588.2L1316.7 1592.7L1318.7 1598.7L1320.6 1592L1322.6 1594.8L1324.6 1589.5L1326.5 1588.3L1328.5 1589.4L1330.4 1594.1L1332.4 1584.3L1334.3 1580.5L1336.3 1584.5L1338.3 1579.9L1340.2 1583.8L1342.2 1581.1L1344.1 1578.8L1346.1 1582.6L1348.1 1587.6L1350 1580.3L1352 1593.4L1353.9 1585.4L1355.9 1590.2L1357.8 1588.5L1359.8 1587.1L1361.8 1588.4L1363.7 1594.3L1365.7 1589.3L1367.6 1589.4L1369.6 1599.9L1371.5 1593.8L1373.5 1599.7L1375.5 1590.4L1377.4 1589.2L1379.4 1591.3L1381.3 1592.2L1383.3 1593.3L1385.3 1591.7L1387.2 1594L1389.2 1598.6L1391.1 1595.7L1393.1 1591.7L1395 1594.4L1397 1608.4L1399 1603.7L1400.9 1599.3L1402.9 1598.4L1404.8 1601.9L1406.8 1598.7L1408.7 1590L1410.7 1589.7L1412.7 1588.4L1414.6 1584.1L1416.6 1581.8L1418.5 1580.6L1420.5 1586.9L1422.5 1581L1424.4 1589.1L1426.4 1577L1428.3 1595.7L1430.3 1590.7L1432.2 1591.3L1434.2 1581.4L1436.2 1590L1438.1 1583.3L1440.1 1595.9L1442 1586.9L1444 1585.9L1446 1585.7L1447.9 1581.7L1449.9 1577.2L1451.8 1585.6L1453.8 1593.4L1455.7 1578.4L1457.7 1582.2L1459.7 1591L1461.6 1581.7L1463.6 1592.2L1465.5 1587L1467.5 1591.7L1469.4 1599.7L1471.4 1594.5L1473.4 1600L1475.3 1590.5L1477.3 1596L1479.2 1596.4L1481.2 1595L1483.2 1608.4L1485.1 1618.5L1487.1 1612.6L1489 1618.2L1491 1610.5L1492.9 1604.6L1494.9 1606.2L1496.9 1600.5L1498.8 1602.8L1500.8 1596.5L1502.7 1596.7L1504.7 1599.9L1506.6 1602.8L1508.6 1600.9L1510.6 1599.6L1512.5 1601.2L1514.5 1605.3L1516.4 1602.7L1518.4 1608.7L1520.4 1604.9L1522.3 1599.5L1524.3 1603.5L1526.2 1600.6L1528.2 1602.8L1530.1 1609.6L1532.1 1602.7L1534.1 1609.6L1536 1602.2L1538 1604.3L1539.9 1603L1541.9 1599.1L1543.8 1599.7L1545.8 1602.4L1547.8 1602.1L1549.7 1609.3L1551.7 1612.2L1553.6 1606.3L1555.6 1606.8" fill="none" stroke="none" marker-start="url(#mC)" marker-mid="url(#mC)" marker-end="url(#mC)" clip-path="url(#cC)"/>
<path d="M336.4 2097.9h18.6M336.4 1988.4h18.6M336.4 1878.9h18.6M336.4 1769.4h18.6M336.4 1659.9h18.6M336.4 1550.4h18.6M336.4 1440.9h18.6M336.4 1331.4h18.6M336.4 1221.9h18.6M336.4 2043.2h9.8M336.4 1933.7h9.8M336.4 1824.2h9.8M336.4 1714.7h9.8M336.4 1605.2h9.8M336.4 1495.7h9.8M336.4 1386.2h9.8M336.4 1276.7h9.8M380.6 2153v-20.2M674.4 2153v-20.2M968.1 2153v-20.2M1261.9 2153v-20.2M527.5 2153v-10.6M821.2 2153v-10.6M1115 2153v-10.6M1408.8 2153v-10.6" stroke="#000" stroke-width="7.6" fill="none"/>
<rect x="336.4" y="1169.4" width="1220.8" height="983.6" fill="none" stroke="#000" stroke-width="8.2"/>
<text class="sans" transform="translate(314.4 2116.5) scale(0.977 1)" font-size="61.2" text-anchor="end" fill="#000">-0.04</text>
<text class="sans" transform="translate(314.4 2007) scale(0.977 1)" font-size="61.2" text-anchor="end" fill="#000">-0.02</text>
<text class="sans" transform="translate(314.4 1897.5) scale(0.977 1)" font-size="61.2" text-anchor="end" fill="#000">0.00</text>
<text class="sans" transform="translate(314.4 1788) scale(0.977 1)" font-size="61.2" text-anchor="end" fill="#000">0.02</text>
<text class="sans" transform="translate(314.4 1678.5) scale(0.977 1)" font-size="61.2" text-anchor="end" fill="#000">0.04</text>
<text class="sans" transform="translate(314.4 1569) scale(0.977 1)" font-size="61.2" text-anchor="end" fill="#000">0.06</text>
<text class="sans" transform="translate(314.4 1459.5) scale(0.977 1)" font-size="61.2" text-anchor="end" fill="#000">0.08</text>
<text class="sans" transform="translate(314.4 1350) scale(0.977 1)" font-size="61.2" text-anchor="end" fill="#000">0.10</text>
<text class="sans" transform="translate(314.4 1240.5) scale(0.977 1)" font-size="61.2" text-anchor="end" fill="#000">0.12</text>
<text class="sans" transform="translate(380.3 2217.2) scale(1.01 1)" font-size="56.5" text-anchor="middle" fill="#000">0</text>
<text class="sans" transform="translate(674.06 2217.2) scale(1.01 1)" font-size="56.5" text-anchor="middle" fill="#000">200</text>
<text class="sans" transform="translate(967.82 2217.2) scale(1.01 1)" font-size="56.5" text-anchor="middle" fill="#000">400</text>
<text class="sans" transform="translate(1261.58 2217.2) scale(1.01 1)" font-size="56.5" text-anchor="middle" fill="#000">600</text>
<text class="sans" transform="translate(1555.34 2217.2) scale(1.01 1)" font-size="56.5" text-anchor="middle" fill="#000">800</text>
<text class="sans" transform="translate(948 2314.3) scale(1.008 1)" font-size="83.2" text-anchor="middle" fill="#000">Delay time (ps)</text>
<text class="sans" transform="translate(132.6 1744) rotate(-90) scale(0.942 1)" font-size="86.8" fill="#000"><tspan class="serif">Δ</tspan>T/T<tspan font-size="58.5" dy="23.3">0</tspan></text>
<text class="sans" transform="translate(762.8 1258.2) scale(1.035 1)" font-size="63" fill="#000">Room temperature</text>
<text class="sans" transform="translate(760 1358.7) scale(1.035 1)" font-size="63" fill="#000">Pump fluence:542 <tspan class="serif">μ</tspan>J/cm<tspan font-size="42" dy="-16.5">2</tspan></text>
<rect x="970.6" y="1647" width="556" height="367.8" fill="#fff"/>
<path d="M970.7 1924.3L983.9 1921.4L997.2 1921.9L1010.4 1921.7L1023.6 1922.8L1036.8 1922.6L1050.1 1923.8L1063.3 1925.6L1076.5 1926.9L1089.7 1938.1L1103 1953.6L1116.2 1971.6L1129.4 1979.3L1142.6 1972.1L1155.9 1948.6L1169.1 1913.9L1182.3 1876.3L1195.5 1837.6L1208.8 1810.7L1222 1783.5L1235.2 1763.2L1248.4 1747.1L1261.7 1733.2L1274.9 1722.3L1288.1 1715L1301.3 1713.5L1314.6 1711.1L1327.8 1711.9L1341 1710.2L1354.2 1709.7L1367.5 1712.1L1380.7 1711L1393.9 1709.4L1407.1 1712.2L1420.4 1710.6L1433.6 1709.5L1446.8 1712L1460 1710.5L1473.3 1710L1486.5 1709L1499.7 1711.4L1512.9 1708.8L1526.2 1709.6" fill="none" stroke="none" marker-start="url(#mCi)" marker-mid="url(#mCi)" marker-end="url(#mCi)" clip-path="url(#cCi)"/>
<path d="M970.7 1923L973.9 1923L977 1923L980.2 1923L983.4 1923L986.6 1923L989.7 1923L992.9 1923L996.1 1923L999.3 1923L1002.4 1923L1005.6 1923L1008.8 1923L1012 1923L1015.1 1923L1018.3 1923L1021.5 1923L1024.7 1923L1027.8 1923L1031 1923L1034.2 1923L1037.4 1923L1040.5 1923.1L1043.7 1923.2L1046.9 1923.4L1050.1 1923.6L1053.2 1923.7L1056.4 1924L1059.6 1924.3L1062.7 1924.7L1065.9 1925.3L1069.1 1926L1072.3 1927L1075.4 1928.2L1078.6 1929.6L1081.8 1931.5L1085 1933.8L1088.1 1936.4L1091.3 1939.2L1094.5 1942.5L1097.7 1946.3L1100.8 1950.3L1104 1954.4L1107.2 1958.9L1110.4 1963.7L1113.5 1968.1L1116.7 1971.6L1119.9 1974.8L1123.1 1977.7L1126.2 1980L1129.4 1981.3L1132.6 1982L1135.7 1982.1L1138.9 1978.9L1142.1 1973.9L1145.3 1969L1148.4 1963.4L1151.6 1957.2L1154.8 1950.5L1158 1943.3L1161.1 1935.3L1164.3 1926.8L1167.5 1918.1L1170.7 1909.5L1173.8 1900.8L1177 1891.9L1180.2 1882.9L1183.4 1873.8L1186.5 1864.4L1189.7 1854.8L1192.9 1845.6L1196.1 1837.3L1199.2 1829.6L1202.4 1822.4L1205.6 1815.5L1208.8 1808.9L1211.9 1802.7L1215.1 1796.7L1218.3 1791L1221.4 1785.5L1224.6 1780L1227.8 1774.5L1231 1769.3L1234.1 1764.4L1237.3 1760L1240.5 1755.8L1243.7 1751.9L1246.8 1748.2L1250 1744.6L1253.2 1741.1L1256.4 1737.8L1259.5 1734.7L1262.7 1731.9L1265.9 1729.3L1269.1 1727L1272.2 1724.8L1275.4 1722.9L1278.6 1721.1L1281.8 1719.5L1284.9 1718.1L1288.1 1716.9L1291.3 1716L1294.4 1715.1L1297.6 1714.4L1300.8 1713.8L1304 1713.2L1307.1 1712.6L1310.3 1712.2L1313.5 1711.8L1316.7 1711.6L1319.8 1711.4L1323 1711.2L1326.2 1711.1L1329.4 1711L1332.5 1710.9L1335.7 1710.9L1338.9 1710.8L1342.1 1710.7L1345.2 1710.7L1348.4 1710.7L1351.6 1710.6L1354.8 1710.6L1357.9 1710.6L1361.1 1710.5L1364.3 1710.5L1367.5 1710.5L1370.6 1710.5L1373.8 1710.4L1377 1710.4L1380.1 1710.4L1383.3 1710.4L1386.5 1710.4L1389.7 1710.3L1392.8 1710.3L1396 1710.3L1399.2 1710.3L1402.4 1710.3L1405.5 1710.3L1408.7 1710.2L1411.9 1710.2L1415.1 1710.2L1418.2 1710.2L1421.4 1710.2L1424.6 1710.2L1427.8 1710.2L1430.9 1710.2L1434.1 1710.1L1437.3 1710.1L1440.5 1710.1L1443.6 1710.1L1446.8 1710.1L1450 1710.1L1453.1 1710.1L1456.3 1710.1L1459.5 1710.1L1462.7 1710.1L1465.8 1710.1L1469 1710.1L1472.2 1710.1L1475.4 1710L1478.5 1710L1481.7 1710L1484.9 1710L1488.1 1710L1491.2 1710L1494.4 1710L1497.6 1710L1500.8 1710L1503.9 1710L1507.1 1710L1510.3 1710L1513.5 1710L1516.6 1710L1519.8 1710L1523 1710L1526.2 1710" fill="none" stroke="#f00000" stroke-width="4.5" stroke-linejoin="round" clip-path="url(#cCi)"/>
<path d="M970.6 2015h7.4M970.6 1923h7.4M970.6 1831h7.4M970.6 1739h7.4M970.6 1969h4M970.6 1877h4M970.6 1785h4M970.6 1693h4M1050.1 2014.8v-7.4M1129.4 2014.8v-7.4M1208.8 2014.8v-7.4M1288.1 2014.8v-7.4M1367.5 2014.8v-7.4M1446.8 2014.8v-7.4M1010.4 2014.8v-4M1089.7 2014.8v-4M1169.1 2014.8v-4M1248.4 2014.8v-4M1327.8 2014.8v-4M1407.1 2014.8v-4M1486.5 2014.8v-4" stroke="#000" stroke-width="4.4" fill="none"/>
<rect x="970.6" y="1647" width="556" height="367.8" fill="none" stroke="#000" stroke-width="4.8"/>
<text class="sans" transform="translate(961.4 2028.5) scale(1.014 1)" font-size="41.5" text-anchor="end" font-weight="700" fill="#000">-0.05</text>
<text class="sans" transform="translate(961.4 1938) scale(1.014 1)" font-size="41.5" text-anchor="end" font-weight="700" fill="#000">0.00</text>
<text class="sans" transform="translate(961.4 1843.6) scale(1.014 1)" font-size="41.5" text-anchor="end" font-weight="700" fill="#000">0.05</text>
<text class="sans" transform="translate(961.4 1753) scale(1.014 1)" font-size="41.5" text-anchor="end" font-weight="700" fill="#000">0.10</text>
<text class="sans" transform="translate(961.4 1655.2) scale(1.014 1)" font-size="41.5" text-anchor="end" font-weight="700" fill="#000">0.15</text>
<text class="sans" transform="translate(966.2 2056.3) scale(0.985 1)" font-size="41.5" text-anchor="middle" font-weight="700" fill="#000">-2</text>
<text class="sans" transform="translate(1045.55 2056.3) scale(0.985 1)" font-size="41.5" text-anchor="middle" font-weight="700" fill="#000">-1</text>
<text class="sans" transform="translate(1129.4 2056.3) scale(0.985 1)" font-size="41.5" text-anchor="middle" font-weight="700" fill="#000">0</text>
<text class="sans" transform="translate(1208.75 2056.3) scale(0.985 1)" font-size="41.5" text-anchor="middle" font-weight="700" fill="#000">1</text>
<text class="sans" transform="translate(1288.1 2056.3) scale(0.985 1)" font-size="41.5" text-anchor="middle" font-weight="700" fill="#000">2</text>
<text class="sans" transform="translate(1367.45 2056.3) scale(0.985 1)" font-size="41.5" text-anchor="middle" font-weight="700" fill="#000">3</text>
<text class="sans" transform="translate(1446.8 2056.3) scale(0.985 1)" font-size="41.5" text-anchor="middle" font-weight="700" fill="#000">4</text>
<text class="sans" transform="translate(1526.15 2056.3) scale(0.985 1)" font-size="41.5" text-anchor="middle" font-weight="700" fill="#000">5</text>
<text class="sans" transform="translate(1250.1 2118.5) scale(1.072 1)" font-size="50" text-anchor="middle" fill="#000">Delay time (ps)</text>
<text class="sans" transform="translate(843.9 1897.4) rotate(-90) scale(0.93 1)" font-size="55.8" fill="#000"><tspan class="serif">Δ</tspan>T/T<tspan font-size="39" dy="15">0</tspan></text>
<circle cx="1312" cy="1909.4" r="10" fill="none" stroke="#0000b4" stroke-width="1.5"/>
<path d="M1258.5 1968.3H1365.5" stroke="#f00000" stroke-width="5.2" stroke-linecap="round"/>
<text class="sans" transform="translate(1377.4 1926) scale(0.99 1)" font-size="49.8" fill="#000">Exp.</text>
<text class="sans" transform="translate(1377.4 1984.9) scale(0.98 1)" font-size="49.8" fill="#000">Fitting</text>
<text class="cjk" fill="#000" font-size="76"><tspan font-family="'Noto Serif CJK SC', serif" font-size="70" x="1.2" y="1195.6">（</tspan><tspan x="73.9" y="1191">c</tspan><tspan font-family="'Noto Serif CJK SC', serif" font-size="70" x="107.5" y="1195.6">）</tspan></text>
</g>
<g id="panel-d">
<g clip-path="url(#cD)" fill="none" stroke-width="7.6" stroke-linejoin="round">
<path d="M1888 1804.9L1895.2 1804.8L1902.4 1804.7L1909.6 1804.6L1916.8 1804.6L1924 1804.5L1931.2 1804.6L1938.4 1804.6L1945.6 1804.7L1952.8 1804.8L1960 1804.9L1967.2 1805L1974.4 1805.1L1981.6 1805.3L1988.8 1805.5L1996 1805.6L2003.2 1805.8L2010.4 1806L2017.6 1806.1L2024.8 1806.2L2032.1 1806.3L2039.3 1805.4L2046.5 1805.3L2053.7 1805.1L2060.9 1804.7L2068.1 1804L2075.3 1803L2082.5 1801.3L2089.7 1799L2096.9 1795.6L2104.1 1791.2L2118.5 1778.8L2132.9 1762L2140.1 1752.6L2147.3 1742.9L2154.5 1731.2L2161.7 1718L2168.9 1705.3L2176.1 1695.1L2183.3 1688.1L2190.5 1682.7L2197.7 1679.2L2204.9 1676.4L2212.2 1675.1L2219.4 1675.6L2226.6 1677L2233.8 1678.5L2241 1680.4L2248.2 1682.3L2255.4 1683.8L2262.6 1685.2L2269.8 1686.5L2277 1687.8L2284.2 1689L2291.4 1690.3L2298.6 1691.5L2305.8 1692.6L2313 1693.5L2320.2 1694.4L2327.4 1695.2L2334.6 1695.8L2341.8 1696L2349 1696L2356.2 1696L2363.4 1696L2370.6 1696L2377.8 1695.5L2385 1694.7L2392.3 1694.6L2399.5 1694.6L2406.7 1694.6L2413.9 1694.6L2421.1 1694.9L2428.3 1695.5L2435.5 1696.3L2442.7 1697.1L2449.9 1697.8L2457.1 1698.7L2464.3 1699.7L2471.5 1700.5L2478.7 1700.8L2485.9 1700.8L2493.1 1700.8L2500.3 1700.8L2507.5 1700.5L2514.7 1699.6L2521.9 1698.6L2529.1 1697.6L2536.3 1696.4L2543.5 1696L2550.7 1696L2557.9 1696L2565.1 1696L2572.4 1696L2579.6 1695.8L2586.8 1695.6L2594 1695.5L2601.2 1695.6L2608.4 1695.8L2615.6 1696.1L2622.8 1696.5L2630 1697.1L2637.2 1697.8L2644.4 1698.5L2651.6 1699.2L2658.8 1699.8L2666 1700L2673.2 1700.3L2680.4 1700.9L2687.6 1701.6L2694.8 1701.7L2702 1701.7L2709.2 1701.5L2716.4 1700.8L2723.6 1700L2730.8 1699.3L2738 1698.9L2745.2 1698.5L2752.5 1698.2L2759.7 1698L2766.9 1697.8L2774.1 1697.5L2781.3 1697L2788.5 1696.1L2795.7 1695.3L2802.9 1694.5L2810.1 1694.1L2817.3 1694.1L2824.5 1694.1L2831.7 1694.5L2838.9 1695L2846.1 1695.4L2853.3 1695.7L2860.5 1695.9L2867.7 1696L2874.9 1696L2882.1 1696L2889.3 1696.1L2896.5 1696.3L2903.7 1696.7L2910.9 1697.2L2918.1 1697.6L2925.3 1698.3L2932.6 1698.4L2939.8 1698.4L2947 1698.4L2954.2 1698.3L2961.4 1697.6L2968.6 1696.6L2975.8 1695.8L2983 1695.3L2990.2 1694.9L2997.4 1694.7L3004.6 1694.6L3011.8 1694.6L3019 1694.6L3026.2 1694.7L3033.4 1694.9L3040.6 1695.2L3047.8 1695.5L3055 1695.7L3062.2 1695.9L3069.4 1696.3L3076.6 1696.8L3083.8 1697.4L3091 1697.9L3098.2 1698.5L3105.4 1699.1L3112.7 1699.7" stroke="#515151"/>
<path d="M1888 1804.3L1895.2 1804.3L1902.4 1804.4L1909.6 1804.5L1916.8 1804.7L1924 1804.8L1931.2 1805L1938.4 1805.2L1945.6 1805.4L1952.8 1805.6L1960 1805.8L1967.2 1806L1974.4 1806.2L1981.6 1806.4L1988.8 1806.5L1996 1806.6L2003.2 1806.7L2010.4 1806.7L2017.6 1806.7L2024.8 1806.7L2032.1 1806.6L2039.3 1805.6L2046.5 1805.8L2053.7 1806L2060.9 1806.4L2068.1 1807L2075.3 1807.6L2082.5 1808.2L2089.7 1808.2L2096.9 1807.3L2104.1 1804.7L2118.5 1792.2L2132.9 1768.4L2140.1 1753.1L2147.3 1736.5L2154.5 1719L2161.7 1700.9L2168.9 1683.5L2176.1 1668.3L2183.3 1655.7L2190.5 1645L2197.7 1638.5L2204.9 1634.3L2212.2 1631.1L2219.4 1628.4L2226.6 1627L2233.8 1626.7L2241 1626.6L2248.2 1626.5L2255.4 1626.6L2262.6 1627L2269.8 1627.5L2277 1627.9L2284.2 1627.9L2291.4 1627.9L2298.6 1627.9L2305.8 1627.7L2313 1627.3L2320.2 1626.8L2327.4 1626.4L2334.6 1626L2341.8 1625.5L2349 1625.2L2356.2 1625.1L2363.4 1625.2L2370.6 1625.4L2377.8 1625.7L2385 1625.9L2392.3 1626.1L2399.5 1626.2L2406.7 1626.2L2413.9 1626.4L2421.1 1626.6L2428.3 1627.5L2435.5 1629L2442.7 1630.6L2449.9 1632.4L2457.1 1634.3L2464.3 1635.4L2471.5 1635.9L2478.7 1635.8L2485.9 1635L2493.1 1634L2500.3 1632.5L2507.5 1631L2514.7 1630.5L2521.9 1630.3L2529.1 1630.4L2536.3 1630.6L2543.5 1630.9L2550.7 1631.2L2557.9 1631.5L2565.1 1631.7L2572.4 1631.7L2579.6 1631.7L2586.8 1631.7L2594 1631.7L2601.2 1631.7L2608.4 1631.7L2615.6 1631.7L2622.8 1631.6L2630 1631.5L2637.2 1631.2L2644.4 1630.9L2651.6 1630.6L2658.8 1630.3L2666 1630L2673.2 1629.6L2680.4 1629.2L2687.6 1628.8L2694.8 1628.3L2702 1627.9L2709.2 1628.2L2716.4 1629L2723.6 1630L2730.8 1630.8L2738 1631.3L2745.2 1631.7L2752.5 1631.7L2759.7 1631.4L2766.9 1631L2774.1 1630.8L2781.3 1631.1L2788.5 1632.1L2795.7 1632.8L2802.9 1633.2L2810.1 1633.5L2817.3 1633.6L2824.5 1633.5L2831.7 1633.1L2838.9 1632.7L2846.1 1632.2L2853.3 1631.6L2860.5 1631.1L2867.7 1630.7L2874.9 1630.5L2882.1 1630.4L2889.3 1630.1L2896.5 1629.6L2903.7 1629.2L2910.9 1628.9L2918.1 1628.9L2925.3 1629.2L2932.6 1629.5L2939.8 1629.9L2947 1630.2L2954.2 1630.3L2961.4 1630.3L2968.6 1630.3L2975.8 1630.3L2983 1630.3L2990.2 1630.3L2997.4 1630.3L3004.6 1630.3L3011.8 1630.9L3019 1631.7L3026.2 1633L3033.4 1634.6L3040.6 1635.6L3047.8 1636.4L3055 1637.2L3062.2 1637.8L3069.4 1638.1L3076.6 1638.3L3083.8 1638.4L3091 1638.2L3098.2 1637.7L3105.4 1637.1L3112.7 1636.5" stroke="#f14040"/>
<path d="M1888 1804.8L1895.2 1805.1L1902.4 1805.3L1909.6 1805.6L1916.8 1805.8L1924 1806L1931.2 1806.3L1938.4 1806.5L1945.6 1806.6L1952.8 1806.8L1960 1806.9L1967.2 1806.9L1974.4 1807L1981.6 1807L1988.8 1807L1996 1807.1L2003.2 1807.2L2010.4 1807.3L2017.6 1807.5L2024.8 1807.8L2032.1 1808.4L2039.3 1809.5L2046.5 1810.7L2053.7 1812L2060.9 1813.5L2068.1 1815.2L2075.3 1817.5L2082.5 1821.1L2089.7 1825L2096.9 1827.9L2104.1 1829L2118.5 1819.8L2132.9 1790.3L2140.1 1769.2L2147.3 1745.4L2154.5 1724.5L2161.7 1705.2L2168.9 1686.1L2176.1 1665.7L2183.3 1641L2190.5 1614.6L2197.7 1599.5L2204.9 1590.4L2212.2 1582.6L2219.4 1575.5L2226.6 1569.8L2233.8 1565.2L2241 1561.2L2248.2 1558.7L2255.4 1557.9L2262.6 1557.5L2269.8 1557.8L2277 1559.2L2284.2 1560.9L2291.4 1562.4L2298.6 1564.1L2305.8 1565.7L2313 1567L2320.2 1568.2L2327.4 1568.9L2334.6 1568.8L2341.8 1568.7L2349 1568.4L2356.2 1567.9L2363.4 1566.9L2370.6 1566L2377.8 1565.4L2385 1564.9L2392.3 1564.3L2399.5 1563.6L2406.7 1563L2413.9 1562.7L2421.1 1562.5L2428.3 1562.3L2435.5 1562.2L2442.7 1561.9L2449.9 1561.7L2457.1 1561.4L2464.3 1561.1L2471.5 1560.8L2478.7 1560.6L2485.9 1560.4L2493.1 1560.3L2500.3 1560.9L2507.5 1561.8L2514.7 1563L2521.9 1564.4L2529.1 1565L2536.3 1565.3L2543.5 1565.5L2550.7 1565.4L2557.9 1564.8L2565.1 1564L2572.4 1563.2L2579.6 1562.3L2586.8 1562.2L2594 1562.2L2601.2 1562.2L2608.4 1562.2L2615.6 1562.2L2622.8 1562.3L2630 1562.5L2637.2 1562.7L2644.4 1563.3L2651.6 1564.2L2658.8 1564.6L2666 1564.3L2673.2 1563.5L2680.4 1562.9L2687.6 1562.7L2694.8 1562.9L2702 1563.2L2709.2 1563.5L2716.4 1563.6L2723.6 1563.5L2730.8 1563.3L2738 1563L2745.2 1562.8L2752.5 1562.6L2759.7 1562.5L2766.9 1562.4L2774.1 1562.3L2781.3 1561.8L2788.5 1560.8L2795.7 1560.2L2802.9 1560L2810.1 1559.9L2817.3 1559.8L2824.5 1559.8L2831.7 1559.8L2838.9 1559.8L2846.1 1560.7L2853.3 1562.1L2860.5 1563.1L2867.7 1563.6L2874.9 1563L2882.1 1562.3L2889.3 1562.2L2896.5 1562.2L2903.7 1562.5L2910.9 1563.2L2918.1 1564L2925.3 1565.2L2932.6 1565.8L2939.8 1566.1L2947 1566.4L2954.2 1566.6L2961.4 1566.8L2968.6 1566.9L2975.8 1567L2983 1566.5L2990.2 1565.8L2997.4 1565.2L3004.6 1565.1L3011.8 1565.3L3019 1565.5L3026.2 1565.7L3033.4 1565.9L3040.6 1566L3047.8 1566L3055 1565.6L3062.2 1564.7L3069.4 1564.2L3076.6 1563.8L3083.8 1563.6L3091 1563.7L3098.2 1564L3105.4 1564.3L3112.7 1564.6" stroke="#1a6fdf"/>
<path d="M1888 1806.3L1895.2 1806.6L1902.4 1806.8L1909.6 1806.9L1916.8 1807.1L1924 1807.1L1931.2 1807.2L1938.4 1807.1L1945.6 1807.1L1952.8 1806.9L1960 1806.8L1967.2 1806.6L1974.4 1806.4L1981.6 1806.2L1988.8 1806.1L1996 1806L2003.2 1806.1L2010.4 1806.2L2017.6 1806.6L2024.8 1807.1L2032.1 1808.1L2039.3 1811.2L2046.5 1813L2053.7 1814.9L2060.9 1817.1L2068.1 1819.8L2075.3 1823.4L2082.5 1829.3L2089.7 1835.8L2096.9 1841.6L2104.1 1845.3L2118.5 1838.8L2132.9 1806.6L2140.1 1782.3L2147.3 1754.5L2154.5 1730.9L2161.7 1709.7L2168.9 1688.5L2176.1 1664.6L2183.3 1633.4L2190.5 1597.8L2197.7 1573.8L2204.9 1557.1L2212.2 1544L2219.4 1532.9L2226.6 1524.6L2233.8 1518.7L2241 1514L2248.2 1510.2L2255.4 1507.1L2262.6 1504.8L2269.8 1503.2L2277 1501.9L2284.2 1501.9L2291.4 1503.1L2298.6 1504.1L2305.8 1504.8L2313 1505.3L2320.2 1505.6L2327.4 1505.3L2334.6 1504.8L2341.8 1504.2L2349 1503.8L2356.2 1503.4L2363.4 1503.2L2370.6 1503.3L2377.8 1503.7L2385 1504.3L2392.3 1504.9L2399.5 1505.9L2406.7 1506.7L2413.9 1507L2421.1 1507L2428.3 1507L2435.5 1507L2442.7 1507L2449.9 1507.1L2457.1 1507.3L2464.3 1507.5L2471.5 1507.7L2478.7 1507.9L2485.9 1508.4L2493.1 1509.2L2500.3 1509.8L2507.5 1510.2L2514.7 1510.5L2521.9 1510.7L2529.1 1510.9L2536.3 1511L2543.5 1511.2L2550.7 1511.5L2557.9 1512.3L2565.1 1513.2L2572.4 1514.1L2579.6 1515L2586.8 1514.7L2594 1513.5L2601.2 1512.2L2608.4 1510.8L2615.6 1509.6L2622.8 1508.6L2630 1507.7L2637.2 1506.9L2644.4 1505.9L2651.6 1505L2658.8 1504.6L2666 1504.7L2673.2 1505L2680.4 1505.4L2687.6 1505.6L2694.8 1505.8L2702 1505.9L2709.2 1506L2716.4 1506L2723.6 1504.7L2730.8 1502.8L2738 1501.5L2745.2 1500.5L2752.5 1500.3L2759.7 1500.3L2766.9 1500.4L2774.1 1501.6L2781.3 1503L2788.5 1504L2795.7 1504.9L2802.9 1506L2810.1 1506.5L2817.3 1506.5L2824.5 1506.5L2831.7 1506.5L2838.9 1506.5L2846.1 1506.4L2853.3 1506L2860.5 1505.7L2867.7 1505.6L2874.9 1505.7L2882.1 1506L2889.3 1506.5L2896.5 1507.4L2903.7 1508.2L2910.9 1508.7L2918.1 1508.9L2925.3 1508.6L2932.6 1508.2L2939.8 1507.8L2947 1507.3L2954.2 1506.8L2961.4 1506.2L2968.6 1505.7L2975.8 1505.6L2983 1505.6L2990.2 1505.6L2997.4 1505.6L3004.6 1505.5L3011.8 1504.9L3019 1504.1L3026.2 1503.4L3033.4 1502.7L3040.6 1502L3047.8 1501.8L3055 1501.7L3062.2 1501.7L3069.4 1502.1L3076.6 1503.1L3083.8 1504.1L3091 1504.5L3098.2 1504.9L3105.4 1505.2L3112.7 1505.5" stroke="#37ad6b"/>
<path d="M1888 1807.4L1895.2 1807.4L1902.4 1807.3L1909.6 1807.2L1916.8 1807L1924 1806.8L1931.2 1806.5L1938.4 1806.2L1945.6 1805.9L1952.8 1805.6L1960 1805.3L1967.2 1804.9L1974.4 1804.7L1981.6 1804.6L1988.8 1804.5L1996 1804.6L2003.2 1805L2010.4 1805.5L2017.6 1806.3L2024.8 1807.5L2032.1 1809.3L2039.3 1813.6L2046.5 1816.3L2053.7 1819.1L2060.9 1822.5L2068.1 1826.6L2075.3 1832.2L2082.5 1841.4L2089.7 1851.8L2096.9 1861.8L2104.1 1869.4L2118.5 1867.4L2132.9 1832.5L2140.1 1804.7L2147.3 1772.3L2154.5 1744.1L2161.7 1718.1L2168.9 1692L2176.1 1663.4L2183.3 1628.5L2190.5 1589.5L2197.7 1556.8L2204.9 1529L2212.2 1507.5L2219.4 1490.8L2226.6 1476.8L2233.8 1466.4L2241 1458.3L2248.2 1452L2255.4 1447.8L2262.6 1444.6L2269.8 1442.2L2277 1440.2L2284.2 1438.7L2291.4 1437.5L2298.6 1436.5L2305.8 1435.5L2313 1435.1L2320.2 1435.5L2327.4 1436.3L2334.6 1438.1L2341.8 1440L2349 1441.1L2356.2 1442.2L2363.4 1442.9L2370.6 1443.2L2377.8 1442.8L2385 1442.1L2392.3 1441.4L2399.5 1440.5L2406.7 1439.6L2413.9 1438.8L2421.1 1437.9L2428.3 1437.5L2435.5 1438.5L2442.7 1440.5L2449.9 1441.8L2457.1 1442.8L2464.3 1443.7L2471.5 1444.6L2478.7 1445.1L2485.9 1445L2493.1 1444.6L2500.3 1444.2L2507.5 1443.3L2514.7 1441.9L2521.9 1440.6L2529.1 1439.7L2536.3 1439.1L2543.5 1438.9L2550.7 1439.3L2557.9 1439.8L2565.1 1440.3L2572.4 1440.2L2579.6 1439.7L2586.8 1438.9L2594 1438.5L2601.2 1438.9L2608.4 1440.5L2615.6 1442.1L2622.8 1443.8L2630 1445L2637.2 1445.1L2644.4 1445L2651.6 1444.7L2658.8 1444.1L2666 1441.8L2673.2 1438.9L2680.4 1435.7L2687.6 1432.5L2694.8 1430.3L2702 1429L2709.2 1429L2716.4 1429.2L2723.6 1429.5L2730.8 1429.9L2738 1430.2L2745.2 1430.6L2752.5 1431.2L2759.7 1432.3L2766.9 1433.8L2774.1 1436L2781.3 1438.2L2788.5 1440L2795.7 1441.7L2802.9 1443.4L2810.1 1444.1L2817.3 1443.7L2824.5 1442.8L2831.7 1440.9L2838.9 1439.4L2846.1 1438.8L2853.3 1438.4L2860.5 1438.8L2867.7 1439.5L2874.9 1440.4L2882.1 1441.5L2889.3 1442.5L2896.5 1443.5L2903.7 1444.1L2910.9 1444.1L2918.1 1444.1L2925.3 1444.1L2932.6 1444.1L2939.8 1443.9L2947 1443.5L2954.2 1442.8L2961.4 1440.9L2968.6 1439.5L2975.8 1439L2983 1440.3L2990.2 1441.9L2997.4 1444L3004.6 1445.3L3011.8 1446.2L3019 1446.5L3026.2 1446.5L3033.4 1446.5L3040.6 1446.5L3047.8 1446.5L3055 1446.5L3062.2 1446.5L3069.4 1447L3076.6 1448.5L3083.8 1450.2L3091 1451.5L3098.2 1452.8L3105.4 1454.1L3112.7 1455.4" stroke="#b177de"/>
<path d="M1888 1806.8L1895.2 1806.4L1902.4 1806.1L1909.6 1805.7L1916.8 1805.3L1924 1805L1931.2 1804.6L1938.4 1804.3L1945.6 1804L1952.8 1803.8L1960 1803.6L1967.2 1803.4L1974.4 1803.5L1981.6 1803.6L1988.8 1803.9L1996 1804.5L2003.2 1805.3L2010.4 1806.3L2017.6 1807.6L2024.8 1809.3L2032.1 1811.8L2039.3 1815.4L2046.5 1818.6L2053.7 1822L2060.9 1826.2L2068.1 1831.3L2075.3 1838.3L2082.5 1849.7L2089.7 1862.9L2096.9 1875.7L2104.1 1886.1L2118.5 1887.4L2132.9 1850.9L2140.1 1821L2147.3 1786L2154.5 1754.1L2161.7 1724L2168.9 1693.8L2176.1 1661.7L2183.3 1624.8L2190.5 1585.1L2197.7 1551.6L2204.9 1522.9L2212.2 1498.9L2219.4 1479.1L2226.6 1463.6L2233.8 1451.5L2241 1441.9L2248.2 1429L2255.4 1417.2L2262.6 1410.7L2269.8 1406.6L2277 1403.8L2284.2 1402.1L2291.4 1401.1L2298.6 1400.1L2305.8 1399.3L2313 1398.1L2320.2 1397.2L2327.4 1396.6L2334.6 1396.9L2341.8 1397.8L2349 1398.5L2356.2 1399.3L2363.4 1399.8L2370.6 1399.5L2377.8 1398L2385 1396L2392.3 1394.1L2399.5 1391.5L2406.7 1389.3L2413.9 1388.4L2421.1 1388.6L2428.3 1389L2435.5 1389.5L2442.7 1390.4L2449.9 1391.4L2457.1 1391.8L2464.3 1390.9L2471.5 1389.6L2478.7 1388.9L2485.9 1389L2493.1 1389.1L2500.3 1389.4L2507.5 1390.5L2514.7 1393.1L2521.9 1395.6L2529.1 1397.3L2536.3 1398.8L2543.5 1399.8L2550.7 1399.7L2557.9 1399.2L2565.1 1398.4L2572.4 1397.4L2579.6 1395.9L2586.8 1395.1L2594 1395.4L2601.2 1396.2L2608.4 1398.6L2615.6 1401.5L2622.8 1405.1L2630 1407.7L2637.2 1408.3L2644.4 1408.4L2651.6 1407.2L2658.8 1405.6L2666 1404.6L2673.2 1403.8L2680.4 1403.1L2687.6 1402.5L2694.8 1402L2702 1401.8L2709.2 1401.8L2716.4 1401.9L2723.6 1402.1L2730.8 1402.3L2738 1402.5L2745.2 1402.6L2752.5 1402.8L2759.7 1402.9L2766.9 1403L2774.1 1403.1L2781.3 1403.7L2788.5 1404.7L2795.7 1405.1L2802.9 1405.1L2810.1 1405.1L2817.3 1405.1L2824.5 1404.7L2831.7 1403.7L2838.9 1403.2L2846.1 1403.2L2853.3 1403.2L2860.5 1403.2L2867.7 1403.2L2874.9 1403.5L2882.1 1404L2889.3 1404.5L2896.5 1404.9L2903.7 1405.4L2910.9 1405.9L2918.1 1406.5L2925.3 1406.9L2932.6 1407L2939.8 1407L2947 1407L2954.2 1406.8L2961.4 1404.9L2968.6 1402.6L2975.8 1400.4L2983 1399.2L2990.2 1398.9L2997.4 1398.9L3004.6 1398.9L3011.8 1399.2L3019 1399.4L3026.2 1399.4L3033.4 1399.3L3040.6 1399.1L3047.8 1398.9L3055 1398.5L3062.2 1398L3069.4 1398L3076.6 1398.3L3083.8 1399L3091 1400.3L3098.2 1401.6L3105.4 1402.8L3112.7 1404" stroke="#cc9900"/>
<path d="M1888 1804.6L1895.2 1804.3L1902.4 1803.9L1909.6 1803.6L1916.8 1803.4L1924 1803.2L1931.2 1803.1L1938.4 1803.1L1945.6 1803.2L1952.8 1803.3L1960 1803.5L1967.2 1803.7L1974.4 1804.2L1981.6 1804.8L1988.8 1805.5L1996 1806.4L2003.2 1807.6L2010.4 1809L2017.6 1810.8L2024.8 1813L2032.1 1816.2L2039.3 1818.6L2046.5 1822.9L2053.7 1827.5L2060.9 1833.1L2068.1 1840.1L2075.3 1849.8L2082.5 1865.4L2089.7 1883.7L2096.9 1901.9L2104.1 1917.4L2118.5 1924.5L2132.9 1885.1L2140.1 1851.2L2147.3 1811.4L2154.5 1773.5L2161.7 1736.6L2168.9 1700L2176.1 1662.7L2183.3 1623.3L2190.5 1583.3L2197.7 1548.2L2204.9 1517.1L2212.2 1490.3L2219.4 1467.6L2226.6 1449.7L2233.8 1433.5L2241 1416.5L2248.2 1403.8L2255.4 1394.6L2262.6 1385.4L2269.8 1377L2277 1369.8L2284.2 1363.3L2291.4 1357.4L2298.6 1352.4L2305.8 1348.6L2313 1346L2320.2 1344.8L2327.4 1344.2L2334.6 1344.4L2341.8 1345L2349 1345.6L2356.2 1346.2L2363.4 1346.9L2370.6 1347.7L2377.8 1348.5L2385 1349.2L2392.3 1349.6L2399.5 1350L2406.7 1350.3L2413.9 1350.3L2421.1 1348.7L2428.3 1345.8L2435.5 1343.1L2442.7 1340.2L2449.9 1337.5L2457.1 1336L2464.3 1335.4L2471.5 1335.1L2478.7 1334.6L2485.9 1334.1L2493.1 1333.5L2500.3 1332.8L2507.5 1331.9L2514.7 1330.7L2521.9 1329.9L2529.1 1330.8L2536.3 1333.8L2543.5 1336.7L2550.7 1339.9L2557.9 1343.1L2565.1 1345.3L2572.4 1345.6L2579.6 1345.5L2586.8 1345.3L2594 1345L2601.2 1344.7L2608.4 1344.4L2615.6 1344.1L2622.8 1343.7L2630 1343.3L2637.2 1342.9L2644.4 1342.3L2651.6 1341.7L2658.8 1340.8L2666 1339.3L2673.2 1337.6L2680.4 1336.4L2687.6 1335.6L2694.8 1335L2702 1334.7L2709.2 1334.6L2716.4 1334.6L2723.6 1334.6L2730.8 1334.6L2738 1335L2745.2 1335.7L2752.5 1336.4L2759.7 1337.3L2766.9 1337.4L2774.1 1336.5L2781.3 1335.3L2788.5 1333.8L2795.7 1332.5L2802.9 1331.3L2810.1 1330.3L2817.3 1329.9L2824.5 1329.9L2831.7 1329.9L2838.9 1329.9L2846.1 1332L2853.3 1334.9L2860.5 1336.1L2867.7 1336.5L2874.9 1334.8L2882.1 1332.9L2889.3 1333.1L2896.5 1334.1L2903.7 1335.2L2910.9 1336.3L2918.1 1336.5L2925.3 1336.2L2932.6 1335.9L2939.8 1335.5L2947 1335L2954.2 1334.3L2961.4 1332.6L2968.6 1330.6L2975.8 1329.1L2983 1327.8L2990.2 1327.6L2997.4 1328.7L3004.6 1330.3L3011.8 1332.4L3019 1334.6L3026.2 1336.5L3033.4 1338.1L3040.6 1338.9L3047.8 1339.4L3055 1338.7L3062.2 1337.6L3069.4 1337.6L3076.6 1337.9L3083.8 1338.9L3091 1341L3098.2 1342.9L3105.4 1344.9L3112.7 1346.8" stroke="#00cbcc"/>
<path d="M1888 1802.9L1895.2 1802.9L1902.4 1802.9L1909.6 1803L1916.8 1803.2L1924 1803.5L1931.2 1803.8L1938.4 1804.2L1945.6 1804.6L1952.8 1805L1960 1805.5L1967.2 1805.9L1974.4 1806.5L1981.6 1807.2L1988.8 1808L1996 1808.9L2003.2 1810.1L2010.4 1811.5L2017.6 1813.3L2024.8 1815.5L2032.1 1818.9L2039.3 1821.1L2046.5 1826.2L2053.7 1831.8L2060.9 1838.5L2068.1 1847L2075.3 1858.7L2082.5 1877.7L2089.7 1900.1L2096.9 1922.6L2104.1 1942.2L2118.5 1954.5L2132.9 1913.7L2140.1 1877.4L2147.3 1834.7L2154.5 1789.2L2161.7 1743.6L2168.9 1699.5L2176.1 1657.8L2183.3 1618.3L2190.5 1580.8L2197.7 1544.7L2204.9 1510.1L2212.2 1477L2219.4 1445.6L2226.6 1416.3L2233.8 1389.5L2241 1365.5L2248.2 1344.5L2255.4 1326.4L2262.6 1311.3L2269.8 1298.9L2277 1289L2284.2 1281.2L2291.4 1275.2L2298.6 1270.7L2305.8 1267.5L2313 1265.1L2320.2 1264.1L2327.4 1263.4L2334.6 1262.5L2341.8 1261.8L2349 1261.8L2356.2 1261.8L2363.4 1261.8L2370.6 1261.9L2377.8 1262.3L2385 1262.9L2392.3 1263.6L2399.5 1264.6L2406.7 1265.4L2413.9 1265.5L2421.1 1264.9L2428.3 1263.9L2435.5 1263.1L2442.7 1262.4L2449.9 1261.7L2457.1 1261.1L2464.3 1260.5L2471.5 1259.9L2478.7 1259.4L2485.9 1259L2493.1 1258.5L2500.3 1258.1L2507.5 1257.8L2514.7 1257.4L2521.9 1257.1L2529.1 1256.8L2536.3 1256.5L2543.5 1256.2L2550.7 1255.9L2557.9 1255.7L2565.1 1255.6L2572.4 1255.6L2579.6 1255.9L2586.8 1256.2L2594 1257L2601.2 1259L2608.4 1259.4L2615.6 1259.4L2622.8 1258.8L2630 1257.9L2637.2 1256.9L2644.4 1255.8L2651.6 1254.7L2658.8 1254.2L2666 1254.2L2673.2 1254.4L2680.4 1254.5L2687.6 1254.7L2694.8 1255L2702 1255.3L2709.2 1255.5L2716.4 1255.6L2723.6 1255.5L2730.8 1255.3L2738 1255.1L2745.2 1254.8L2752.5 1254.5L2759.7 1254L2766.9 1253.4L2774.1 1252.9L2781.3 1252.5L2788.5 1252.1L2795.7 1251.7L2802.9 1251.1L2810.1 1250.5L2817.3 1249.9L2824.5 1249.5L2831.7 1249.1L2838.9 1248.9L2846.1 1249.6L2853.3 1250.9L2860.5 1251.8L2867.7 1252.2L2874.9 1252.4L2882.1 1252.7L2889.3 1252.9L2896.5 1253.2L2903.7 1253.5L2910.9 1254.3L2918.1 1256.2L2925.3 1258.2L2932.6 1259.5L2939.8 1260.4L2947 1260.9L2954.2 1261.2L2961.4 1261.4L2968.6 1261.6L2975.8 1261.9L2983 1262.3L2990.2 1262.8L2997.4 1263.1L3004.6 1263.2L3011.8 1262.4L3019 1261.3L3026.2 1260L3033.4 1258.5L3040.6 1258L3047.8 1258L3055 1258L3062.2 1258L3069.4 1257.8L3076.6 1257.3L3083.8 1256.6L3091 1255.9L3098.2 1255.1L3105.4 1254.2L3112.7 1253.3" stroke="#7d4e4e"/>
</g>
<path d="M1893.4 2091.2h18.6M1893.4 1995.9h18.6M1893.4 1900.7h18.6M1893.4 1805.5h18.6M1893.4 1710.3h18.6M1893.4 1615.1h18.6M1893.4 1519.8h18.6M1893.4 1424.6h18.6M1893.4 1329.4h18.6M1893.4 1234.2h18.6M1893.4 2138.8h9.8M1893.4 2043.5h9.8M1893.4 1948.3h9.8M1893.4 1853.1h9.8M1893.4 1757.9h9.8M1893.4 1662.7h9.8M1893.4 1567.5h9.8M1893.4 1472.2h9.8M1893.4 1377h9.8M1893.4 1281.8h9.8M1893.4 1186.6h9.8M1938.4 2153v-20.2M2118.5 2153v-20.2M2298.6 2153v-20.2M2478.7 2153v-20.2M2658.8 2153v-20.2M2838.9 2153v-20.2M3019 2153v-20.2M2028.5 2153v-10.6M2208.6 2153v-10.6M2388.7 2153v-10.6M2568.8 2153v-10.6M2748.8 2153v-10.6M2928.9 2153v-10.6" stroke="#000" stroke-width="7.6" fill="none"/>
<rect x="1893.4" y="1173" width="1215.1" height="980" fill="none" stroke="#000" stroke-width="8.2"/>
<text class="sans" transform="translate(1870.6 2109.16) scale(0.977 1)" font-size="61.2" text-anchor="end" fill="#000">-0.06</text>
<text class="sans" transform="translate(1870.6 2013.94) scale(0.977 1)" font-size="61.2" text-anchor="end" fill="#000">-0.04</text>
<text class="sans" transform="translate(1870.6 1918.72) scale(0.977 1)" font-size="61.2" text-anchor="end" fill="#000">-0.02</text>
<text class="sans" transform="translate(1870.6 1823.5) scale(0.977 1)" font-size="61.2" text-anchor="end" fill="#000">0.00</text>
<text class="sans" transform="translate(1870.6 1728.28) scale(0.977 1)" font-size="61.2" text-anchor="end" fill="#000">0.02</text>
<text class="sans" transform="translate(1870.6 1633.06) scale(0.977 1)" font-size="61.2" text-anchor="end" fill="#000">0.04</text>
<text class="sans" transform="translate(1870.6 1537.84) scale(0.977 1)" font-size="61.2" text-anchor="end" fill="#000">0.06</text>
<text class="sans" transform="translate(1870.6 1442.62) scale(0.977 1)" font-size="61.2" text-anchor="end" fill="#000">0.08</text>
<text class="sans" transform="translate(1870.6 1347.4) scale(0.977 1)" font-size="61.2" text-anchor="end" fill="#000">0.10</text>
<text class="sans" transform="translate(1870.6 1252.18) scale(0.977 1)" font-size="61.2" text-anchor="end" fill="#000">0.12</text>
<text class="sans" transform="translate(1927.4 2224.2) scale(1.01 1)" font-size="63.6" text-anchor="middle" fill="#000">-2</text>
<text class="sans" transform="translate(2116.5 2224.2) scale(1.01 1)" font-size="63.6" text-anchor="middle" fill="#000">0</text>
<text class="sans" transform="translate(2296.6 2224.2) scale(1.01 1)" font-size="63.6" text-anchor="middle" fill="#000">2</text>
<text class="sans" transform="translate(2476.7 2224.2) scale(1.01 1)" font-size="63.6" text-anchor="middle" fill="#000">4</text>
<text class="sans" transform="translate(2656.8 2224.2) scale(1.01 1)" font-size="63.6" text-anchor="middle" fill="#000">6</text>
<text class="sans" transform="translate(2836.9 2224.2) scale(1.01 1)" font-size="63.6" text-anchor="middle" fill="#000">8</text>
<text class="sans" transform="translate(3017 2224.2) scale(1.01 1)" font-size="63.6" text-anchor="middle" fill="#000">10</text>
<text class="sans" transform="translate(2501 2302.6) scale(1.017 1)" font-size="82.6" text-anchor="middle" fill="#000">Delay time (ps)</text>
<text class="sans" transform="translate(1701.4 1745.7) rotate(-90) scale(0.957 1)" font-size="85.4" fill="#000"><tspan class="serif">Δ</tspan>T/T<tspan font-size="58.7" dy="23.3">0</tspan></text>
<text class="sans" transform="translate(1918.6 1237.8) scale(0.981 1)" font-size="47.5" fill="#000">Fluence(<tspan class="serif">μ</tspan>J/cm<tspan font-size="29" dy="-19.2">2</tspan><tspan dy="19.2">)</tspan></text>
<g stroke-linecap="round" stroke-width="7.7">
<path d="M1937 1290.5H2039.4" stroke="#515151"/>
<path d="M1937 1347.4H2039.4" stroke="#f14040"/>
<path d="M1937 1404.2H2039.4" stroke="#1a6fdf"/>
<path d="M1937 1461.1H2039.4" stroke="#37ad6b"/>
<path d="M1937 1517.9H2039.4" stroke="#b177de"/>
<path d="M1937 1574.8H2039.4" stroke="#cc9900"/>
<path d="M1937 1631.7H2039.4" stroke="#00cbcc"/>
<path d="M1937 1688.5H2039.4" stroke="#7d4e4e"/>
</g>
<text class="sans" transform="translate(2052 1306.1) scale(0.985 1)" font-size="46.4" fill="#000">120</text>
<text class="sans" transform="translate(2052 1362.96) scale(0.985 1)" font-size="46.4" fill="#000">181</text>
<text class="sans" transform="translate(2052 1419.82) scale(0.985 1)" font-size="46.4" fill="#000">241</text>
<text class="sans" transform="translate(2052 1476.68) scale(0.985 1)" font-size="46.4" fill="#000">301</text>
<text class="sans" transform="translate(2052 1533.54) scale(0.985 1)" font-size="46.4" fill="#000">362</text>
<text class="sans" transform="translate(2052 1590.4) scale(0.985 1)" font-size="46.4" fill="#000">422</text>
<text class="sans" transform="translate(2052 1647.26) scale(0.985 1)" font-size="46.4" fill="#000">482</text>
<text class="sans" transform="translate(2052 1704.12) scale(0.985 1)" font-size="46.4" fill="#000">542</text>
<rect x="2546.8" y="1715.4" width="485" height="316.4" fill="#fff"/>
<path d="M2546.8 1994.6h6.4M2546.8 1957.4h6.4M2546.8 1920.2h6.4M2546.8 1883.1h6.4M2546.8 1845.9h6.4M2546.8 1808.8h6.4M2546.8 1771.6h6.4M2546.8 1734.4h6.4M2582.2 2031.8v-6M2672.2 2031.8v-6M2762.2 2031.8v-6M2852.2 2031.8v-6M2942.2 2031.8v-6" stroke="#000" stroke-width="4" fill="none"/>
<path d="M2600.2 1938.8L2980 2013.7" stroke="#000" stroke-width="4.2" stroke-linecap="round"/>
<path d="M2600.2 1911.1L2980 1750.2" stroke="#f00000" stroke-width="4.2" stroke-linecap="round"/>
<rect x="2591.6" y="1934.3" width="17.2" height="17.2" fill="none" stroke="#000" stroke-width="1.5"/>
<rect x="2646.5" y="1941.2" width="17.2" height="17.2" fill="none" stroke="#000" stroke-width="1.5"/>
<rect x="2700.5" y="1949.7" width="17.2" height="17.2" fill="none" stroke="#000" stroke-width="1.5"/>
<rect x="2754.5" y="1960.1" width="17.2" height="17.2" fill="none" stroke="#000" stroke-width="1.5"/>
<rect x="2809.4" y="1973" width="17.2" height="17.2" fill="none" stroke="#000" stroke-width="1.5"/>
<rect x="2863.4" y="1980.9" width="17.2" height="17.2" fill="none" stroke="#000" stroke-width="1.5"/>
<rect x="2917.4" y="1995.4" width="17.2" height="17.2" fill="none" stroke="#000" stroke-width="1.5"/>
<rect x="2971.4" y="2007" width="17.2" height="17.2" fill="none" stroke="#000" stroke-width="1.5"/>
<circle cx="2600.2" cy="1912.4" r="9.8" fill="none" stroke="#e00000" stroke-width="1.5"/>
<circle cx="2655.1" cy="1886.8" r="9.8" fill="none" stroke="#e00000" stroke-width="1.5"/>
<circle cx="2709.1" cy="1863.4" r="9.8" fill="none" stroke="#e00000" stroke-width="1.5"/>
<circle cx="2763.1" cy="1839" r="9.8" fill="none" stroke="#e00000" stroke-width="1.5"/>
<circle cx="2818" cy="1815.6" r="9.8" fill="none" stroke="#e00000" stroke-width="1.5"/>
<circle cx="2872" cy="1796.9" r="9.8" fill="none" stroke="#e00000" stroke-width="1.5"/>
<circle cx="2926" cy="1779.2" r="9.8" fill="none" stroke="#e00000" stroke-width="1.5"/>
<circle cx="2980" cy="1745.8" r="9.8" fill="none" stroke="#e00000" stroke-width="1.5"/>
<rect x="2546.8" y="1715.4" width="485" height="316.4" fill="none" stroke="#000" stroke-width="4.6"/>
<text class="sans" transform="translate(2537 2044.82)" font-size="37.5" text-anchor="end" fill="#000">-0.04</text>
<text class="sans" transform="translate(2537 2007.66)" font-size="37.5" text-anchor="end" fill="#000">-0.02</text>
<text class="sans" transform="translate(2537 1970.5)" font-size="37.5" text-anchor="end" fill="#000">0.00</text>
<text class="sans" transform="translate(2537 1933.34)" font-size="37.5" text-anchor="end" fill="#000">0.02</text>
<text class="sans" transform="translate(2537 1896.18)" font-size="37.5" text-anchor="end" fill="#000">0.04</text>
<text class="sans" transform="translate(2537 1859.02)" font-size="37.5" text-anchor="end" fill="#000">0.06</text>
<text class="sans" transform="translate(2537 1821.86)" font-size="37.5" text-anchor="end" fill="#000">0.08</text>
<text class="sans" transform="translate(2537 1784.7)" font-size="37.5" text-anchor="end" fill="#000">0.10</text>
<text class="sans" transform="translate(2537 1747.54)" font-size="37.5" text-anchor="end" fill="#000">0.12</text>
<text class="sans" transform="translate(2581.6 2067.8) scale(1.018 1)" font-size="37.6" text-anchor="middle" fill="#000">100</text>
<text class="sans" transform="translate(2671.6 2067.8) scale(1.018 1)" font-size="37.6" text-anchor="middle" fill="#000">200</text>
<text class="sans" transform="translate(2761.6 2067.8) scale(1.018 1)" font-size="37.6" text-anchor="middle" fill="#000">300</text>
<text class="sans" transform="translate(2851.6 2067.8) scale(1.018 1)" font-size="37.6" text-anchor="middle" fill="#000">400</text>
<text class="sans" transform="translate(2941.6 2067.8) scale(1.018 1)" font-size="37.6" text-anchor="middle" fill="#000">500</text>
<text class="sans" transform="translate(3031.6 2067.8) scale(1.018 1)" font-size="37.6" text-anchor="middle" fill="#000">600</text>
<text class="sans" transform="translate(2789.5 2113.9) scale(1.028 1)" font-size="44.9" text-anchor="middle" fill="#000">Pump fluence (μJ/cm<tspan font-size="28" dy="-18">2</tspan><tspan dy="18">)</tspan></text>
<text class="sans" transform="translate(2430.3 1930) rotate(-90)" font-size="44.9" fill="#000"><tspan class="serif">Δ</tspan>T/T<tspan font-size="33" dy="13">0</tspan></text>
<rect x="2848.75" y="1860.7" width="17.7" height="17.7" fill="none" stroke="#000" stroke-width="1.5"/>
<circle cx="2857.4" cy="1916.2" r="9.9" fill="none" stroke="#e00000" stroke-width="1.5"/>
<text class="sans" transform="translate(2911 1883) scale(0.97 1)" font-size="39.2" fill="#000"><tspan font-style="italic">t</tspan>=0 ps</text>
<text class="sans" transform="translate(2911 1929.2) scale(0.97 1)" font-size="39.2" fill="#000"><tspan font-style="italic">t</tspan>=3 ps</text>
<text class="cjk" fill="#000" font-size="76"><tspan font-family="'Noto Serif CJK SC', serif" font-size="70" x="1561.2" y="1195.6">（</tspan><tspan x="1633.9" y="1191">d</tspan><tspan font-family="'Noto Serif CJK SC', serif" font-size="70" x="1672.6" y="1195.6">）</tspan></text>
</g>
</svg>
</body></html>
